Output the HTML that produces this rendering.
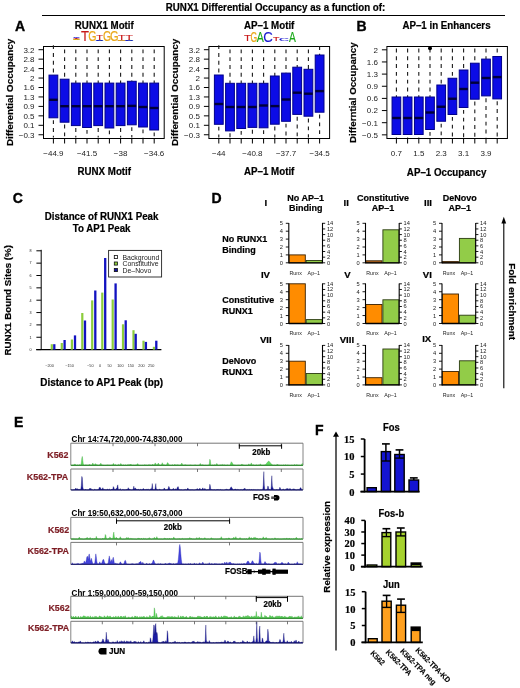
<!DOCTYPE html>
<html><head><meta charset="utf-8"><title>Figure</title>
<style>html,body{margin:0;padding:0;background:#fff;width:520px;height:688px;overflow:hidden}svg{display:block;will-change:transform}</style>
</head><body>
<svg width="520" height="688" viewBox="0 0 520 688">
<rect x="0" y="0" width="520" height="688" fill="#fff"/>
<text transform="translate(165.80,10.90) scale(1,1.08)" font-family='"Liberation Sans", sans-serif' font-size="9.75" font-weight="bold" text-anchor="start" fill="#000" stroke="#000" stroke-width="0.2">RUNX1 Differential Occupancy as a function of:</text>
<line x1="42.00" y1="15.50" x2="505.00" y2="15.50" stroke="#000" stroke-width="1"/>
<text x="14.90" y="30.50" font-family='"Liberation Sans", sans-serif' font-size="14.0" font-weight="bold" text-anchor="start" fill="#000" stroke="#000" stroke-width="0.35">A</text>
<text x="356.60" y="31.30" font-family='"Liberation Sans", sans-serif' font-size="14.0" font-weight="bold" text-anchor="start" fill="#000" stroke="#000" stroke-width="0.35">B</text>
<text x="12.85" y="203.30" font-family='"Liberation Sans", sans-serif' font-size="14.0" font-weight="bold" text-anchor="start" fill="#000" stroke="#000" stroke-width="0.35">C</text>
<text x="211.50" y="203.40" font-family='"Liberation Sans", sans-serif' font-size="14.0" font-weight="bold" text-anchor="start" fill="#000" stroke="#000" stroke-width="0.35">D</text>
<text x="14.00" y="426.70" font-family='"Liberation Sans", sans-serif' font-size="14.0" font-weight="bold" text-anchor="start" fill="#000" stroke="#000" stroke-width="0.35">E</text>
<text x="314.90" y="435.40" font-family='"Liberation Sans", sans-serif' font-size="14.0" font-weight="bold" text-anchor="start" fill="#000" stroke="#000" stroke-width="0.35">F</text>
<rect x="43.50" y="46.50" width="120.70" height="92.00" fill="none" stroke="#000" stroke-width="1"/>
<line x1="38.50" y1="49.70" x2="43.50" y2="49.70" stroke="#000" stroke-width="1"/>
<text x="34.50" y="52.60" font-family='"Liberation Sans", sans-serif' font-size="8" font-weight="normal" text-anchor="end" fill="#222">3.2</text>
<line x1="38.50" y1="59.15" x2="43.50" y2="59.15" stroke="#000" stroke-width="1"/>
<text x="34.50" y="62.05" font-family='"Liberation Sans", sans-serif' font-size="8" font-weight="normal" text-anchor="end" fill="#222">2.8</text>
<line x1="38.50" y1="68.60" x2="43.50" y2="68.60" stroke="#000" stroke-width="1"/>
<text x="34.50" y="71.50" font-family='"Liberation Sans", sans-serif' font-size="8" font-weight="normal" text-anchor="end" fill="#222">2.4</text>
<line x1="38.50" y1="78.05" x2="43.50" y2="78.05" stroke="#000" stroke-width="1"/>
<text x="34.50" y="80.95" font-family='"Liberation Sans", sans-serif' font-size="8" font-weight="normal" text-anchor="end" fill="#222">2</text>
<line x1="38.50" y1="87.50" x2="43.50" y2="87.50" stroke="#000" stroke-width="1"/>
<text x="34.50" y="90.40" font-family='"Liberation Sans", sans-serif' font-size="8" font-weight="normal" text-anchor="end" fill="#222">1.6</text>
<line x1="38.50" y1="96.95" x2="43.50" y2="96.95" stroke="#000" stroke-width="1"/>
<text x="34.50" y="99.85" font-family='"Liberation Sans", sans-serif' font-size="8" font-weight="normal" text-anchor="end" fill="#222">1.3</text>
<line x1="38.50" y1="106.40" x2="43.50" y2="106.40" stroke="#000" stroke-width="1"/>
<text x="34.50" y="109.30" font-family='"Liberation Sans", sans-serif' font-size="8" font-weight="normal" text-anchor="end" fill="#222">0.9</text>
<line x1="38.50" y1="115.85" x2="43.50" y2="115.85" stroke="#000" stroke-width="1"/>
<text x="34.50" y="118.75" font-family='"Liberation Sans", sans-serif' font-size="8" font-weight="normal" text-anchor="end" fill="#222">0.5</text>
<line x1="38.50" y1="125.30" x2="43.50" y2="125.30" stroke="#000" stroke-width="1"/>
<text x="34.50" y="128.20" font-family='"Liberation Sans", sans-serif' font-size="8" font-weight="normal" text-anchor="end" fill="#222">0.1</text>
<line x1="38.50" y1="134.75" x2="43.50" y2="134.75" stroke="#000" stroke-width="1"/>
<text x="34.50" y="137.65" font-family='"Liberation Sans", sans-serif' font-size="8" font-weight="normal" text-anchor="end" fill="#222">−0.3</text>
<line x1="53.40" y1="45.20" x2="53.40" y2="75.10" stroke="#1a1a1a" stroke-width="1.1" stroke-dasharray="3.9,3.9"/>
<line x1="53.40" y1="120.20" x2="53.40" y2="137.50" stroke="#1a1a1a" stroke-width="1.1" stroke-dasharray="3.9,3.9"/>
<rect x="49.00" y="75.10" width="8.80" height="42.70" fill="#0c0ce6" stroke="#00008a" stroke-width="1.0"/>
<line x1="49.00" y1="99.80" x2="57.80" y2="99.80" stroke="#00003a" stroke-width="2.4"/>
<line x1="64.60" y1="49.40" x2="64.60" y2="79.20" stroke="#1a1a1a" stroke-width="1.1" stroke-dasharray="3.9,3.9"/>
<line x1="64.60" y1="124.60" x2="64.60" y2="137.50" stroke="#1a1a1a" stroke-width="1.1" stroke-dasharray="3.9,3.9"/>
<rect x="60.20" y="79.20" width="8.80" height="43.00" fill="#0c0ce6" stroke="#00008a" stroke-width="1.0"/>
<line x1="60.20" y1="106.20" x2="69.00" y2="106.20" stroke="#00003a" stroke-width="2.4"/>
<line x1="75.80" y1="49.40" x2="75.80" y2="83.10" stroke="#1a1a1a" stroke-width="1.1" stroke-dasharray="3.9,3.9"/>
<line x1="75.80" y1="128.00" x2="75.80" y2="137.50" stroke="#1a1a1a" stroke-width="1.1" stroke-dasharray="3.9,3.9"/>
<rect x="71.40" y="83.10" width="8.80" height="42.50" fill="#0c0ce6" stroke="#00008a" stroke-width="1.0"/>
<line x1="71.40" y1="106.20" x2="80.20" y2="106.20" stroke="#00003a" stroke-width="2.4"/>
<line x1="87.00" y1="49.40" x2="87.00" y2="83.10" stroke="#1a1a1a" stroke-width="1.1" stroke-dasharray="3.9,3.9"/>
<line x1="87.00" y1="129.90" x2="87.00" y2="137.50" stroke="#1a1a1a" stroke-width="1.1" stroke-dasharray="3.9,3.9"/>
<rect x="82.60" y="83.10" width="8.80" height="44.40" fill="#0c0ce6" stroke="#00008a" stroke-width="1.0"/>
<line x1="82.60" y1="106.20" x2="91.40" y2="106.20" stroke="#00003a" stroke-width="2.4"/>
<line x1="98.20" y1="49.40" x2="98.20" y2="83.10" stroke="#1a1a1a" stroke-width="1.1" stroke-dasharray="3.9,3.9"/>
<line x1="98.20" y1="128.00" x2="98.20" y2="137.50" stroke="#1a1a1a" stroke-width="1.1" stroke-dasharray="3.9,3.9"/>
<rect x="93.80" y="83.10" width="8.80" height="42.50" fill="#0c0ce6" stroke="#00008a" stroke-width="1.0"/>
<line x1="93.80" y1="106.20" x2="102.60" y2="106.20" stroke="#00003a" stroke-width="2.4"/>
<line x1="109.40" y1="49.40" x2="109.40" y2="83.10" stroke="#1a1a1a" stroke-width="1.1" stroke-dasharray="3.9,3.9"/>
<line x1="109.40" y1="130.40" x2="109.40" y2="137.50" stroke="#1a1a1a" stroke-width="1.1" stroke-dasharray="3.9,3.9"/>
<rect x="105.00" y="83.10" width="8.80" height="44.90" fill="#0c0ce6" stroke="#00008a" stroke-width="1.0"/>
<line x1="105.00" y1="106.20" x2="113.80" y2="106.20" stroke="#00003a" stroke-width="2.4"/>
<line x1="120.60" y1="49.40" x2="120.60" y2="83.10" stroke="#1a1a1a" stroke-width="1.1" stroke-dasharray="3.9,3.9"/>
<line x1="120.60" y1="128.00" x2="120.60" y2="137.50" stroke="#1a1a1a" stroke-width="1.1" stroke-dasharray="3.9,3.9"/>
<rect x="116.20" y="83.10" width="8.80" height="42.50" fill="#0c0ce6" stroke="#00008a" stroke-width="1.0"/>
<line x1="116.20" y1="106.20" x2="125.00" y2="106.20" stroke="#00003a" stroke-width="2.4"/>
<line x1="131.80" y1="49.40" x2="131.80" y2="81.30" stroke="#1a1a1a" stroke-width="1.1" stroke-dasharray="3.9,3.9"/>
<line x1="131.80" y1="127.20" x2="131.80" y2="137.50" stroke="#1a1a1a" stroke-width="1.1" stroke-dasharray="3.9,3.9"/>
<rect x="127.40" y="81.30" width="8.80" height="43.50" fill="#0c0ce6" stroke="#00008a" stroke-width="1.0"/>
<line x1="127.40" y1="105.90" x2="136.20" y2="105.90" stroke="#00003a" stroke-width="2.4"/>
<line x1="143.00" y1="49.40" x2="143.00" y2="83.10" stroke="#1a1a1a" stroke-width="1.1" stroke-dasharray="3.9,3.9"/>
<line x1="143.00" y1="129.40" x2="143.00" y2="137.50" stroke="#1a1a1a" stroke-width="1.1" stroke-dasharray="3.9,3.9"/>
<rect x="138.60" y="83.10" width="8.80" height="43.90" fill="#0c0ce6" stroke="#00008a" stroke-width="1.0"/>
<line x1="138.60" y1="107.00" x2="147.40" y2="107.00" stroke="#00003a" stroke-width="2.4"/>
<line x1="154.20" y1="49.40" x2="154.20" y2="83.10" stroke="#1a1a1a" stroke-width="1.1" stroke-dasharray="3.9,3.9"/>
<line x1="154.20" y1="132.40" x2="154.20" y2="137.50" stroke="#1a1a1a" stroke-width="1.1" stroke-dasharray="3.9,3.9"/>
<rect x="149.80" y="83.10" width="8.80" height="46.90" fill="#0c0ce6" stroke="#00008a" stroke-width="1.0"/>
<line x1="149.80" y1="108.00" x2="158.60" y2="108.00" stroke="#00003a" stroke-width="2.4"/>
<line x1="53.40" y1="138.50" x2="53.40" y2="143.50" stroke="#000" stroke-width="1"/>
<line x1="64.60" y1="138.50" x2="64.60" y2="143.50" stroke="#000" stroke-width="1"/>
<line x1="75.80" y1="138.50" x2="75.80" y2="143.50" stroke="#000" stroke-width="1"/>
<line x1="87.00" y1="138.50" x2="87.00" y2="143.50" stroke="#000" stroke-width="1"/>
<line x1="98.20" y1="138.50" x2="98.20" y2="143.50" stroke="#000" stroke-width="1"/>
<line x1="109.40" y1="138.50" x2="109.40" y2="143.50" stroke="#000" stroke-width="1"/>
<line x1="120.60" y1="138.50" x2="120.60" y2="143.50" stroke="#000" stroke-width="1"/>
<line x1="131.80" y1="138.50" x2="131.80" y2="143.50" stroke="#000" stroke-width="1"/>
<line x1="143.00" y1="138.50" x2="143.00" y2="143.50" stroke="#000" stroke-width="1"/>
<line x1="154.20" y1="138.50" x2="154.20" y2="143.50" stroke="#000" stroke-width="1"/>
<text x="53.40" y="155.70" font-family='"Liberation Sans", sans-serif' font-size="8" font-weight="normal" text-anchor="middle" fill="#222">−44.9</text>
<text x="87.00" y="155.70" font-family='"Liberation Sans", sans-serif' font-size="8" font-weight="normal" text-anchor="middle" fill="#222">−41.5</text>
<text x="120.60" y="155.70" font-family='"Liberation Sans", sans-serif' font-size="8" font-weight="normal" text-anchor="middle" fill="#222">−38</text>
<text x="154.20" y="155.70" font-family='"Liberation Sans", sans-serif' font-size="8" font-weight="normal" text-anchor="middle" fill="#222">−34.6</text>
<text transform="translate(12.60,92.50) rotate(-90)" font-family='"Liberation Sans", sans-serif' font-size="9.85" font-weight="bold" text-anchor="middle" fill="#000" stroke="#000" stroke-width="0.2">Differential Occupancy</text>
<text transform="translate(104.30,28.50) scale(1,1.08)" font-family='"Liberation Sans", sans-serif' font-size="9.75" font-weight="bold" text-anchor="middle" fill="#000" stroke="#000" stroke-width="0.2">RUNX1 Motif</text>
<text transform="translate(104.30,174.50) scale(1,1.08)" font-family='"Liberation Sans", sans-serif' font-size="9.75" font-weight="bold" text-anchor="middle" fill="#000" stroke="#000" stroke-width="0.2">RUNX Motif</text>
<rect x="208.90" y="46.50" width="120.70" height="92.00" fill="none" stroke="#000" stroke-width="1"/>
<line x1="203.90" y1="49.70" x2="208.90" y2="49.70" stroke="#000" stroke-width="1"/>
<text x="199.90" y="52.60" font-family='"Liberation Sans", sans-serif' font-size="8" font-weight="normal" text-anchor="end" fill="#222">3.2</text>
<line x1="203.90" y1="59.15" x2="208.90" y2="59.15" stroke="#000" stroke-width="1"/>
<text x="199.90" y="62.05" font-family='"Liberation Sans", sans-serif' font-size="8" font-weight="normal" text-anchor="end" fill="#222">2.8</text>
<line x1="203.90" y1="68.60" x2="208.90" y2="68.60" stroke="#000" stroke-width="1"/>
<text x="199.90" y="71.50" font-family='"Liberation Sans", sans-serif' font-size="8" font-weight="normal" text-anchor="end" fill="#222">2.4</text>
<line x1="203.90" y1="78.05" x2="208.90" y2="78.05" stroke="#000" stroke-width="1"/>
<text x="199.90" y="80.95" font-family='"Liberation Sans", sans-serif' font-size="8" font-weight="normal" text-anchor="end" fill="#222">2</text>
<line x1="203.90" y1="87.50" x2="208.90" y2="87.50" stroke="#000" stroke-width="1"/>
<text x="199.90" y="90.40" font-family='"Liberation Sans", sans-serif' font-size="8" font-weight="normal" text-anchor="end" fill="#222">1.6</text>
<line x1="203.90" y1="96.95" x2="208.90" y2="96.95" stroke="#000" stroke-width="1"/>
<text x="199.90" y="99.85" font-family='"Liberation Sans", sans-serif' font-size="8" font-weight="normal" text-anchor="end" fill="#222">1.3</text>
<line x1="203.90" y1="106.40" x2="208.90" y2="106.40" stroke="#000" stroke-width="1"/>
<text x="199.90" y="109.30" font-family='"Liberation Sans", sans-serif' font-size="8" font-weight="normal" text-anchor="end" fill="#222">0.9</text>
<line x1="203.90" y1="115.85" x2="208.90" y2="115.85" stroke="#000" stroke-width="1"/>
<text x="199.90" y="118.75" font-family='"Liberation Sans", sans-serif' font-size="8" font-weight="normal" text-anchor="end" fill="#222">0.5</text>
<line x1="203.90" y1="125.30" x2="208.90" y2="125.30" stroke="#000" stroke-width="1"/>
<text x="199.90" y="128.20" font-family='"Liberation Sans", sans-serif' font-size="8" font-weight="normal" text-anchor="end" fill="#222">0.1</text>
<line x1="203.90" y1="134.75" x2="208.90" y2="134.75" stroke="#000" stroke-width="1"/>
<text x="199.90" y="137.65" font-family='"Liberation Sans", sans-serif' font-size="8" font-weight="normal" text-anchor="end" fill="#222">−0.3</text>
<line x1="218.80" y1="45.20" x2="218.80" y2="75.00" stroke="#1a1a1a" stroke-width="1.1" stroke-dasharray="3.9,3.9"/>
<line x1="218.80" y1="126.70" x2="218.80" y2="137.50" stroke="#1a1a1a" stroke-width="1.1" stroke-dasharray="3.9,3.9"/>
<rect x="214.40" y="75.00" width="8.80" height="49.30" fill="#0c0ce6" stroke="#00008a" stroke-width="1.0"/>
<line x1="214.40" y1="104.00" x2="223.20" y2="104.00" stroke="#00003a" stroke-width="2.4"/>
<line x1="230.00" y1="49.40" x2="230.00" y2="83.30" stroke="#1a1a1a" stroke-width="1.1" stroke-dasharray="3.9,3.9"/>
<line x1="230.00" y1="133.30" x2="230.00" y2="137.50" stroke="#1a1a1a" stroke-width="1.1" stroke-dasharray="3.9,3.9"/>
<rect x="225.60" y="83.30" width="8.80" height="47.60" fill="#0c0ce6" stroke="#00008a" stroke-width="1.0"/>
<line x1="225.60" y1="107.00" x2="234.40" y2="107.00" stroke="#00003a" stroke-width="2.4"/>
<line x1="241.20" y1="49.40" x2="241.20" y2="83.30" stroke="#1a1a1a" stroke-width="1.1" stroke-dasharray="3.9,3.9"/>
<line x1="241.20" y1="130.90" x2="241.20" y2="137.50" stroke="#1a1a1a" stroke-width="1.1" stroke-dasharray="3.9,3.9"/>
<rect x="236.80" y="83.30" width="8.80" height="45.20" fill="#0c0ce6" stroke="#00008a" stroke-width="1.0"/>
<line x1="236.80" y1="107.00" x2="245.60" y2="107.00" stroke="#00003a" stroke-width="2.4"/>
<line x1="252.40" y1="49.40" x2="252.40" y2="83.30" stroke="#1a1a1a" stroke-width="1.1" stroke-dasharray="3.9,3.9"/>
<line x1="252.40" y1="129.80" x2="252.40" y2="137.50" stroke="#1a1a1a" stroke-width="1.1" stroke-dasharray="3.9,3.9"/>
<rect x="248.00" y="83.30" width="8.80" height="44.10" fill="#0c0ce6" stroke="#00008a" stroke-width="1.0"/>
<line x1="248.00" y1="107.00" x2="256.80" y2="107.00" stroke="#00003a" stroke-width="2.4"/>
<line x1="263.60" y1="49.40" x2="263.60" y2="83.30" stroke="#1a1a1a" stroke-width="1.1" stroke-dasharray="3.9,3.9"/>
<line x1="263.60" y1="130.20" x2="263.60" y2="137.50" stroke="#1a1a1a" stroke-width="1.1" stroke-dasharray="3.9,3.9"/>
<rect x="259.20" y="83.30" width="8.80" height="44.50" fill="#0c0ce6" stroke="#00008a" stroke-width="1.0"/>
<line x1="259.20" y1="105.50" x2="268.00" y2="105.50" stroke="#00003a" stroke-width="2.4"/>
<line x1="274.80" y1="49.40" x2="274.80" y2="76.00" stroke="#1a1a1a" stroke-width="1.1" stroke-dasharray="3.9,3.9"/>
<line x1="274.80" y1="126.60" x2="274.80" y2="137.50" stroke="#1a1a1a" stroke-width="1.1" stroke-dasharray="3.9,3.9"/>
<rect x="270.40" y="76.00" width="8.80" height="48.20" fill="#0c0ce6" stroke="#00008a" stroke-width="1.0"/>
<line x1="270.40" y1="106.10" x2="279.20" y2="106.10" stroke="#00003a" stroke-width="2.4"/>
<line x1="286.00" y1="49.40" x2="286.00" y2="73.10" stroke="#1a1a1a" stroke-width="1.1" stroke-dasharray="3.9,3.9"/>
<line x1="286.00" y1="123.70" x2="286.00" y2="137.50" stroke="#1a1a1a" stroke-width="1.1" stroke-dasharray="3.9,3.9"/>
<rect x="281.60" y="73.10" width="8.80" height="48.20" fill="#0c0ce6" stroke="#00008a" stroke-width="1.0"/>
<line x1="281.60" y1="99.50" x2="290.40" y2="99.50" stroke="#00003a" stroke-width="2.4"/>
<line x1="297.20" y1="49.40" x2="297.20" y2="67.20" stroke="#1a1a1a" stroke-width="1.1" stroke-dasharray="3.9,3.9"/>
<line x1="297.20" y1="116.80" x2="297.20" y2="137.50" stroke="#1a1a1a" stroke-width="1.1" stroke-dasharray="3.9,3.9"/>
<rect x="292.80" y="67.20" width="8.80" height="47.20" fill="#0c0ce6" stroke="#00008a" stroke-width="1.0"/>
<line x1="292.80" y1="92.70" x2="301.60" y2="92.70" stroke="#00003a" stroke-width="2.4"/>
<line x1="308.40" y1="49.40" x2="308.40" y2="69.30" stroke="#1a1a1a" stroke-width="1.1" stroke-dasharray="3.9,3.9"/>
<line x1="308.40" y1="118.60" x2="308.40" y2="137.50" stroke="#1a1a1a" stroke-width="1.1" stroke-dasharray="3.9,3.9"/>
<rect x="304.00" y="69.30" width="8.80" height="46.90" fill="#0c0ce6" stroke="#00008a" stroke-width="1.0"/>
<line x1="304.00" y1="93.70" x2="312.80" y2="93.70" stroke="#00003a" stroke-width="2.4"/>
<line x1="319.60" y1="46.00" x2="319.60" y2="55.00" stroke="#1a1a1a" stroke-width="1.1" stroke-dasharray="3.9,3.9"/>
<line x1="319.60" y1="114.60" x2="319.60" y2="137.50" stroke="#1a1a1a" stroke-width="1.1" stroke-dasharray="3.9,3.9"/>
<rect x="315.20" y="55.00" width="8.80" height="57.20" fill="#0c0ce6" stroke="#00008a" stroke-width="1.0"/>
<line x1="315.20" y1="91.10" x2="324.00" y2="91.10" stroke="#00003a" stroke-width="2.4"/>
<line x1="218.80" y1="138.50" x2="218.80" y2="143.50" stroke="#000" stroke-width="1"/>
<line x1="230.00" y1="138.50" x2="230.00" y2="143.50" stroke="#000" stroke-width="1"/>
<line x1="241.20" y1="138.50" x2="241.20" y2="143.50" stroke="#000" stroke-width="1"/>
<line x1="252.40" y1="138.50" x2="252.40" y2="143.50" stroke="#000" stroke-width="1"/>
<line x1="263.60" y1="138.50" x2="263.60" y2="143.50" stroke="#000" stroke-width="1"/>
<line x1="274.80" y1="138.50" x2="274.80" y2="143.50" stroke="#000" stroke-width="1"/>
<line x1="286.00" y1="138.50" x2="286.00" y2="143.50" stroke="#000" stroke-width="1"/>
<line x1="297.20" y1="138.50" x2="297.20" y2="143.50" stroke="#000" stroke-width="1"/>
<line x1="308.40" y1="138.50" x2="308.40" y2="143.50" stroke="#000" stroke-width="1"/>
<line x1="319.60" y1="138.50" x2="319.60" y2="143.50" stroke="#000" stroke-width="1"/>
<text x="218.80" y="155.70" font-family='"Liberation Sans", sans-serif' font-size="8" font-weight="normal" text-anchor="middle" fill="#222">−44</text>
<text x="252.40" y="155.70" font-family='"Liberation Sans", sans-serif' font-size="8" font-weight="normal" text-anchor="middle" fill="#222">−40.8</text>
<text x="286.00" y="155.70" font-family='"Liberation Sans", sans-serif' font-size="8" font-weight="normal" text-anchor="middle" fill="#222">−37.7</text>
<text x="319.60" y="155.70" font-family='"Liberation Sans", sans-serif' font-size="8" font-weight="normal" text-anchor="middle" fill="#222">−34.5</text>
<text transform="translate(178.30,92.40) rotate(-90)" font-family='"Liberation Sans", sans-serif' font-size="9.85" font-weight="bold" text-anchor="middle" fill="#000" stroke="#000" stroke-width="0.2">Differential Occupancy</text>
<text transform="translate(269.20,28.50) scale(1,1.08)" font-family='"Liberation Sans", sans-serif' font-size="9.75" font-weight="bold" text-anchor="middle" fill="#000" stroke="#000" stroke-width="0.2">AP–1 Motif</text>
<text transform="translate(269.20,174.50) scale(1,1.08)" font-family='"Liberation Sans", sans-serif' font-size="9.75" font-weight="bold" text-anchor="middle" fill="#000" stroke="#000" stroke-width="0.2">AP–1 Motif</text>
<rect x="386.90" y="46.50" width="120.50" height="92.00" fill="none" stroke="#000" stroke-width="1"/>
<line x1="381.90" y1="49.80" x2="386.90" y2="49.80" stroke="#000" stroke-width="1"/>
<text x="377.90" y="52.70" font-family='"Liberation Sans", sans-serif' font-size="8" font-weight="normal" text-anchor="end" fill="#222">2</text>
<line x1="381.90" y1="61.95" x2="386.90" y2="61.95" stroke="#000" stroke-width="1"/>
<text x="377.90" y="64.85" font-family='"Liberation Sans", sans-serif' font-size="8" font-weight="normal" text-anchor="end" fill="#222">1.6</text>
<line x1="381.90" y1="74.10" x2="386.90" y2="74.10" stroke="#000" stroke-width="1"/>
<text x="377.90" y="77.00" font-family='"Liberation Sans", sans-serif' font-size="8" font-weight="normal" text-anchor="end" fill="#222">1.3</text>
<line x1="381.90" y1="86.25" x2="386.90" y2="86.25" stroke="#000" stroke-width="1"/>
<text x="377.90" y="89.15" font-family='"Liberation Sans", sans-serif' font-size="8" font-weight="normal" text-anchor="end" fill="#222">0.9</text>
<line x1="381.90" y1="98.40" x2="386.90" y2="98.40" stroke="#000" stroke-width="1"/>
<text x="377.90" y="101.30" font-family='"Liberation Sans", sans-serif' font-size="8" font-weight="normal" text-anchor="end" fill="#222">0.6</text>
<line x1="381.90" y1="110.55" x2="386.90" y2="110.55" stroke="#000" stroke-width="1"/>
<text x="377.90" y="113.45" font-family='"Liberation Sans", sans-serif' font-size="8" font-weight="normal" text-anchor="end" fill="#222">0.2</text>
<line x1="381.90" y1="122.70" x2="386.90" y2="122.70" stroke="#000" stroke-width="1"/>
<text x="377.90" y="125.60" font-family='"Liberation Sans", sans-serif' font-size="8" font-weight="normal" text-anchor="end" fill="#222">−0.1</text>
<line x1="381.90" y1="134.85" x2="386.90" y2="134.85" stroke="#000" stroke-width="1"/>
<text x="377.90" y="137.75" font-family='"Liberation Sans", sans-serif' font-size="8" font-weight="normal" text-anchor="end" fill="#222">−0.5</text>
<line x1="396.40" y1="48.50" x2="396.40" y2="97.00" stroke="#1a1a1a" stroke-width="1.1" stroke-dasharray="3.9,3.9"/>
<line x1="396.40" y1="136.90" x2="396.40" y2="137.50" stroke="#1a1a1a" stroke-width="1.1" stroke-dasharray="3.9,3.9"/>
<rect x="392.05" y="97.00" width="8.70" height="37.50" fill="#0c0ce6" stroke="#00008a" stroke-width="1.0"/>
<line x1="392.05" y1="118.00" x2="400.75" y2="118.00" stroke="#00003a" stroke-width="2.4"/>
<line x1="407.60" y1="48.50" x2="407.60" y2="97.00" stroke="#1a1a1a" stroke-width="1.1" stroke-dasharray="3.9,3.9"/>
<line x1="407.60" y1="136.90" x2="407.60" y2="137.50" stroke="#1a1a1a" stroke-width="1.1" stroke-dasharray="3.9,3.9"/>
<rect x="403.25" y="97.00" width="8.70" height="37.50" fill="#0c0ce6" stroke="#00008a" stroke-width="1.0"/>
<line x1="403.25" y1="118.00" x2="411.95" y2="118.00" stroke="#00003a" stroke-width="2.4"/>
<line x1="418.80" y1="48.50" x2="418.80" y2="97.00" stroke="#1a1a1a" stroke-width="1.1" stroke-dasharray="3.9,3.9"/>
<line x1="418.80" y1="136.90" x2="418.80" y2="137.50" stroke="#1a1a1a" stroke-width="1.1" stroke-dasharray="3.9,3.9"/>
<rect x="414.45" y="97.00" width="8.70" height="37.50" fill="#0c0ce6" stroke="#00008a" stroke-width="1.0"/>
<line x1="414.45" y1="118.00" x2="423.15" y2="118.00" stroke="#00003a" stroke-width="2.4"/>
<line x1="430.00" y1="48.50" x2="430.00" y2="97.00" stroke="#1a1a1a" stroke-width="1.1" stroke-dasharray="3.9,3.9"/>
<line x1="430.00" y1="131.90" x2="430.00" y2="137.50" stroke="#1a1a1a" stroke-width="1.1" stroke-dasharray="3.9,3.9"/>
<rect x="425.65" y="97.00" width="8.70" height="32.50" fill="#0c0ce6" stroke="#00008a" stroke-width="1.0"/>
<line x1="425.65" y1="112.50" x2="434.35" y2="112.50" stroke="#00003a" stroke-width="2.4"/>
<line x1="441.20" y1="48.50" x2="441.20" y2="85.00" stroke="#1a1a1a" stroke-width="1.1" stroke-dasharray="3.9,3.9"/>
<line x1="441.20" y1="123.65" x2="441.20" y2="137.50" stroke="#1a1a1a" stroke-width="1.1" stroke-dasharray="3.9,3.9"/>
<rect x="436.85" y="85.00" width="8.70" height="36.25" fill="#0c0ce6" stroke="#00008a" stroke-width="1.0"/>
<line x1="436.85" y1="106.75" x2="445.55" y2="106.75" stroke="#00003a" stroke-width="2.4"/>
<line x1="452.40" y1="48.50" x2="452.40" y2="78.25" stroke="#1a1a1a" stroke-width="1.1" stroke-dasharray="3.9,3.9"/>
<line x1="452.40" y1="116.90" x2="452.40" y2="137.50" stroke="#1a1a1a" stroke-width="1.1" stroke-dasharray="3.9,3.9"/>
<rect x="448.05" y="78.25" width="8.70" height="36.25" fill="#0c0ce6" stroke="#00008a" stroke-width="1.0"/>
<line x1="448.05" y1="98.75" x2="456.75" y2="98.75" stroke="#00003a" stroke-width="2.4"/>
<line x1="463.60" y1="48.50" x2="463.60" y2="70.00" stroke="#1a1a1a" stroke-width="1.1" stroke-dasharray="3.9,3.9"/>
<line x1="463.60" y1="109.90" x2="463.60" y2="137.50" stroke="#1a1a1a" stroke-width="1.1" stroke-dasharray="3.9,3.9"/>
<rect x="459.25" y="70.00" width="8.70" height="37.50" fill="#0c0ce6" stroke="#00008a" stroke-width="1.0"/>
<line x1="459.25" y1="89.00" x2="467.95" y2="89.00" stroke="#00003a" stroke-width="2.4"/>
<line x1="474.80" y1="48.50" x2="474.80" y2="63.20" stroke="#1a1a1a" stroke-width="1.1" stroke-dasharray="3.9,3.9"/>
<line x1="474.80" y1="101.60" x2="474.80" y2="137.50" stroke="#1a1a1a" stroke-width="1.1" stroke-dasharray="3.9,3.9"/>
<rect x="470.45" y="63.20" width="8.70" height="36.00" fill="#0c0ce6" stroke="#00008a" stroke-width="1.0"/>
<line x1="470.45" y1="82.70" x2="479.15" y2="82.70" stroke="#00003a" stroke-width="2.4"/>
<line x1="486.00" y1="48.50" x2="486.00" y2="59.10" stroke="#1a1a1a" stroke-width="1.1" stroke-dasharray="3.9,3.9"/>
<line x1="486.00" y1="98.30" x2="486.00" y2="137.50" stroke="#1a1a1a" stroke-width="1.1" stroke-dasharray="3.9,3.9"/>
<rect x="481.65" y="59.10" width="8.70" height="36.80" fill="#0c0ce6" stroke="#00008a" stroke-width="1.0"/>
<line x1="481.65" y1="78.00" x2="490.35" y2="78.00" stroke="#00003a" stroke-width="2.4"/>
<line x1="497.20" y1="48.50" x2="497.20" y2="56.50" stroke="#1a1a1a" stroke-width="1.1" stroke-dasharray="3.9,3.9"/>
<line x1="497.20" y1="101.30" x2="497.20" y2="137.50" stroke="#1a1a1a" stroke-width="1.1" stroke-dasharray="3.9,3.9"/>
<rect x="492.85" y="56.50" width="8.70" height="42.40" fill="#0c0ce6" stroke="#00008a" stroke-width="1.0"/>
<line x1="492.85" y1="77.10" x2="501.55" y2="77.10" stroke="#00003a" stroke-width="2.4"/>
<line x1="396.40" y1="138.50" x2="396.40" y2="143.50" stroke="#000" stroke-width="1"/>
<line x1="407.60" y1="138.50" x2="407.60" y2="143.50" stroke="#000" stroke-width="1"/>
<line x1="418.80" y1="138.50" x2="418.80" y2="143.50" stroke="#000" stroke-width="1"/>
<line x1="430.00" y1="138.50" x2="430.00" y2="143.50" stroke="#000" stroke-width="1"/>
<line x1="441.20" y1="138.50" x2="441.20" y2="143.50" stroke="#000" stroke-width="1"/>
<line x1="452.40" y1="138.50" x2="452.40" y2="143.50" stroke="#000" stroke-width="1"/>
<line x1="463.60" y1="138.50" x2="463.60" y2="143.50" stroke="#000" stroke-width="1"/>
<line x1="474.80" y1="138.50" x2="474.80" y2="143.50" stroke="#000" stroke-width="1"/>
<line x1="486.00" y1="138.50" x2="486.00" y2="143.50" stroke="#000" stroke-width="1"/>
<line x1="497.20" y1="138.50" x2="497.20" y2="143.50" stroke="#000" stroke-width="1"/>
<text x="396.40" y="155.70" font-family='"Liberation Sans", sans-serif' font-size="8" font-weight="normal" text-anchor="middle" fill="#222">0.7</text>
<text x="418.80" y="155.70" font-family='"Liberation Sans", sans-serif' font-size="8" font-weight="normal" text-anchor="middle" fill="#222">1.5</text>
<text x="441.20" y="155.70" font-family='"Liberation Sans", sans-serif' font-size="8" font-weight="normal" text-anchor="middle" fill="#222">2.3</text>
<text x="463.60" y="155.70" font-family='"Liberation Sans", sans-serif' font-size="8" font-weight="normal" text-anchor="middle" fill="#222">3.1</text>
<text x="486.00" y="155.70" font-family='"Liberation Sans", sans-serif' font-size="8" font-weight="normal" text-anchor="middle" fill="#222">3.9</text>
<circle cx="430.00" cy="48.3" r="2" fill="#000"/>
<text transform="translate(355.60,92.70) rotate(-90)" font-family='"Liberation Sans", sans-serif' font-size="9.72" font-weight="bold" text-anchor="middle" fill="#000" stroke="#000" stroke-width="0.2">Differntial Occupancy</text>
<text transform="translate(446.50,28.80) scale(1,1.08)" font-family='"Liberation Sans", sans-serif' font-size="9.75" font-weight="bold" text-anchor="middle" fill="#000" stroke="#000" stroke-width="0.2">AP–1 in Enhancers</text>
<text transform="translate(446.60,175.80) scale(1,1.08)" font-family='"Liberation Sans", sans-serif' font-size="9.75" font-weight="bold" text-anchor="middle" fill="#000" stroke="#000" stroke-width="0.2">AP–1 Occupancy</text>
<text transform="translate(73.583,40.400) scale(0.0875,0.0087)" font-family='"Liberation Sans", sans-serif' font-size="100" font-weight="normal" fill="#18a818" stroke="#18a818" stroke-width="13.76">A</text>
<text transform="translate(73.153,39.792) scale(0.0888,0.0085)" font-family='"Liberation Sans", sans-serif' font-size="100" font-weight="normal" fill="#eaa818" stroke="#eaa818" stroke-width="14.16">G</text>
<text transform="translate(73.370,39.200) scale(0.1026,0.0131)" font-family='"Liberation Sans", sans-serif' font-size="100" font-weight="normal" fill="#c81818" stroke="#c81818" stroke-width="9.17">T</text>
<text transform="translate(73.135,38.281) scale(0.0916,0.0198)" font-family='"Liberation Sans", sans-serif' font-size="100" font-weight="normal" fill="#1818d0" stroke="#1818d0" stroke-width="6.07">C</text>
<text transform="translate(80.906,41.200) scale(0.1309,0.1497)" font-family='"Liberation Sans", sans-serif' font-size="100" font-weight="normal" fill="#c81818" stroke="#c81818" stroke-width="0.92">T</text>
<text transform="translate(88.368,41.058) scale(0.1057,0.1455)" font-family='"Liberation Sans", sans-serif' font-size="100" font-weight="normal" fill="#eaa818" stroke="#eaa818" stroke-width="1.14">G</text>
<text transform="translate(96.582,41.200) scale(0.0935,0.0073)" font-family='"Liberation Sans", sans-serif' font-size="100" font-weight="normal" fill="#18a818" stroke="#18a818" stroke-width="16.51">A</text>
<text transform="translate(96.103,40.693) scale(0.0979,0.0071)" font-family='"Liberation Sans", sans-serif' font-size="100" font-weight="normal" fill="#1818d0" stroke="#1818d0" stroke-width="16.99">C</text>
<text transform="translate(96.122,40.194) scale(0.0950,0.0056)" font-family='"Liberation Sans", sans-serif' font-size="100" font-weight="normal" fill="#eaa818" stroke="#eaa818" stroke-width="21.24">G</text>
<text transform="translate(96.354,39.800) scale(0.1097,0.0698)" font-family='"Liberation Sans", sans-serif' font-size="100" font-weight="normal" fill="#c81818" stroke="#c81818" stroke-width="1.72">T</text>
<text transform="translate(102.968,41.058) scale(0.1057,0.1455)" font-family='"Liberation Sans", sans-serif' font-size="100" font-weight="normal" fill="#eaa818" stroke="#eaa818" stroke-width="1.14">G</text>
<text transform="translate(110.045,41.058) scale(0.1103,0.1455)" font-family='"Liberation Sans", sans-serif' font-size="100" font-weight="normal" fill="#eaa818" stroke="#eaa818" stroke-width="1.09">G</text>
<text transform="translate(117.655,41.192) scale(0.1074,0.0085)" font-family='"Liberation Sans", sans-serif' font-size="100" font-weight="normal" fill="#1818d0" stroke="#1818d0" stroke-width="14.16">C</text>
<text transform="translate(117.676,40.592) scale(0.1042,0.0085)" font-family='"Liberation Sans", sans-serif' font-size="100" font-weight="normal" fill="#eaa818" stroke="#eaa818" stroke-width="14.16">G</text>
<text transform="translate(117.930,40.000) scale(0.1203,0.0727)" font-family='"Liberation Sans", sans-serif' font-size="100" font-weight="normal" fill="#c81818" stroke="#c81818" stroke-width="1.65">T</text>
<text transform="translate(125.780,41.200) scale(0.1041,0.0087)" font-family='"Liberation Sans", sans-serif' font-size="100" font-weight="normal" fill="#18a818" stroke="#18a818" stroke-width="13.76">A</text>
<text transform="translate(125.247,40.592) scale(0.1090,0.0085)" font-family='"Liberation Sans", sans-serif' font-size="100" font-weight="normal" fill="#1818d0" stroke="#1818d0" stroke-width="14.16">C</text>
<text transform="translate(125.526,40.000) scale(0.1220,0.0669)" font-family='"Liberation Sans", sans-serif' font-size="100" font-weight="normal" fill="#c81818" stroke="#c81818" stroke-width="1.79">T</text>
<text transform="translate(243.779,41.894) scale(0.1026,0.0056)" font-family='"Liberation Sans", sans-serif' font-size="100" font-weight="normal" fill="#1818d0" stroke="#1818d0" stroke-width="21.24">C</text>
<text transform="translate(244.281,41.500) scale(0.0980,0.0058)" font-family='"Liberation Sans", sans-serif' font-size="100" font-weight="normal" fill="#18a818" stroke="#18a818" stroke-width="20.64">A</text>
<text transform="translate(243.799,41.094) scale(0.0996,0.0056)" font-family='"Liberation Sans", sans-serif' font-size="100" font-weight="normal" fill="#eaa818" stroke="#eaa818" stroke-width="21.24">G</text>
<text transform="translate(244.042,40.700) scale(0.1150,0.0858)" font-family='"Liberation Sans", sans-serif' font-size="100" font-weight="normal" fill="#c81818" stroke="#c81818" stroke-width="1.40">T</text>
<text transform="translate(250.569,41.759) scale(0.0858,0.1441)" font-family='"Liberation Sans", sans-serif' font-size="100" font-weight="normal" fill="#eaa818" stroke="#eaa818" stroke-width="1.40">G</text>
<text transform="translate(256.779,41.900) scale(0.1056,0.1483)" font-family='"Liberation Sans", sans-serif' font-size="100" font-weight="normal" fill="#18a818" stroke="#18a818" stroke-width="1.14">A</text>
<text transform="translate(263.326,41.759) scale(0.1326,0.1441)" font-family='"Liberation Sans", sans-serif' font-size="100" font-weight="normal" fill="#1818d0" stroke="#1818d0" stroke-width="0.90">C</text>
<text transform="translate(272.738,41.896) scale(0.0919,0.0042)" font-family='"Liberation Sans", sans-serif' font-size="100" font-weight="normal" fill="#eaa818" stroke="#eaa818" stroke-width="28.32">G</text>
<text transform="translate(272.719,41.596) scale(0.0947,0.0042)" font-family='"Liberation Sans", sans-serif' font-size="100" font-weight="normal" fill="#1818d0" stroke="#1818d0" stroke-width="28.32">C</text>
<text transform="translate(273.182,41.300) scale(0.0905,0.0044)" font-family='"Liberation Sans", sans-serif' font-size="100" font-weight="normal" fill="#18a818" stroke="#18a818" stroke-width="27.52">A</text>
<text transform="translate(272.962,41.000) scale(0.1061,0.0494)" font-family='"Liberation Sans", sans-serif' font-size="100" font-weight="normal" fill="#c81818" stroke="#c81818" stroke-width="2.43">T</text>
<text transform="translate(278.922,41.896) scale(0.1348,0.0042)" font-family='"Liberation Sans", sans-serif' font-size="100" font-weight="normal" fill="#eaa818" stroke="#eaa818" stroke-width="28.32">G</text>
<text transform="translate(279.574,41.600) scale(0.1327,0.0044)" font-family='"Liberation Sans", sans-serif' font-size="100" font-weight="normal" fill="#18a818" stroke="#18a818" stroke-width="27.52">A</text>
<text transform="translate(279.250,41.300) scale(0.1556,0.0058)" font-family='"Liberation Sans", sans-serif' font-size="100" font-weight="normal" fill="#c81818" stroke="#c81818" stroke-width="20.64">T</text>
<text transform="translate(278.894,40.857) scale(0.1390,0.0438)" font-family='"Liberation Sans", sans-serif' font-size="100" font-weight="normal" fill="#1818d0" stroke="#1818d0" stroke-width="2.74">C</text>
<text transform="translate(288.980,41.900) scale(0.1026,0.1483)" font-family='"Liberation Sans", sans-serif' font-size="100" font-weight="normal" fill="#18a818" stroke="#18a818" stroke-width="1.17">A</text>
<text transform="translate(101.60,220.10) scale(1,1.08)" font-family='"Liberation Sans", sans-serif' font-size="9.75" font-weight="bold" text-anchor="middle" fill="#000" stroke="#000" stroke-width="0.2">Distance of RUNX1 Peak</text>
<text transform="translate(101.60,232.10) scale(1,1.08)" font-family='"Liberation Sans", sans-serif' font-size="9.75" font-weight="bold" text-anchor="middle" fill="#000" stroke="#000" stroke-width="0.2">To AP1 Peak</text>
<text transform="translate(10.90,300.30) rotate(-90)" font-family='"Liberation Sans", sans-serif' font-size="9.75" font-weight="bold" text-anchor="middle" fill="#000" stroke="#000" stroke-width="0.2">RUNX1 Bound Sites (%)</text>
<text transform="translate(101.70,386.00) scale(1,1.08)" font-family='"Liberation Sans", sans-serif' font-size="9.95" font-weight="bold" text-anchor="middle" fill="#000" stroke="#000" stroke-width="0.2">Distance to AP1 Peak (bp)</text>
<line x1="41.20" y1="249.80" x2="41.20" y2="349.60" stroke="#000" stroke-width="1"/>
<line x1="36.20" y1="349.60" x2="161.40" y2="349.60" stroke="#000" stroke-width="1.2"/>
<line x1="36.40" y1="349.60" x2="41.20" y2="349.60" stroke="#000" stroke-width="1"/>
<text x="30.60" y="350.90" font-family='"Liberation Sans", sans-serif' font-size="3.7" font-weight="normal" text-anchor="middle" fill="#222">0</text>
<line x1="36.40" y1="337.25" x2="41.20" y2="337.25" stroke="#000" stroke-width="1"/>
<text x="30.60" y="338.55" font-family='"Liberation Sans", sans-serif' font-size="3.7" font-weight="normal" text-anchor="middle" fill="#222">1</text>
<line x1="36.40" y1="324.90" x2="41.20" y2="324.90" stroke="#000" stroke-width="1"/>
<text x="30.60" y="326.20" font-family='"Liberation Sans", sans-serif' font-size="3.7" font-weight="normal" text-anchor="middle" fill="#222">2</text>
<line x1="36.40" y1="312.55" x2="41.20" y2="312.55" stroke="#000" stroke-width="1"/>
<text x="30.60" y="313.85" font-family='"Liberation Sans", sans-serif' font-size="3.7" font-weight="normal" text-anchor="middle" fill="#222">3</text>
<line x1="36.40" y1="300.20" x2="41.20" y2="300.20" stroke="#000" stroke-width="1"/>
<text x="30.60" y="301.50" font-family='"Liberation Sans", sans-serif' font-size="3.7" font-weight="normal" text-anchor="middle" fill="#222">4</text>
<line x1="36.40" y1="287.85" x2="41.20" y2="287.85" stroke="#000" stroke-width="1"/>
<text x="30.60" y="289.15" font-family='"Liberation Sans", sans-serif' font-size="3.7" font-weight="normal" text-anchor="middle" fill="#222">5</text>
<line x1="36.40" y1="275.50" x2="41.20" y2="275.50" stroke="#000" stroke-width="1"/>
<text x="30.60" y="276.80" font-family='"Liberation Sans", sans-serif' font-size="3.7" font-weight="normal" text-anchor="middle" fill="#222">6</text>
<line x1="36.40" y1="263.15" x2="41.20" y2="263.15" stroke="#000" stroke-width="1"/>
<text x="30.60" y="264.45" font-family='"Liberation Sans", sans-serif' font-size="3.7" font-weight="normal" text-anchor="middle" fill="#222">7</text>
<line x1="36.40" y1="250.80" x2="41.20" y2="250.80" stroke="#000" stroke-width="1"/>
<text x="30.60" y="252.10" font-family='"Liberation Sans", sans-serif' font-size="3.7" font-weight="normal" text-anchor="middle" fill="#222">8</text>
<rect x="50.70" y="344.20" width="2.20" height="5.40" fill="#8ccc3c" stroke="none" stroke-width="1"/>
<rect x="60.70" y="343.00" width="2.20" height="6.60" fill="#8ccc3c" stroke="none" stroke-width="1"/>
<rect x="70.80" y="339.50" width="2.20" height="10.10" fill="#8ccc3c" stroke="none" stroke-width="1"/>
<rect x="81.20" y="313.00" width="2.20" height="36.60" fill="#8ccc3c" stroke="none" stroke-width="1"/>
<rect x="91.10" y="300.40" width="2.20" height="49.20" fill="#8ccc3c" stroke="none" stroke-width="1"/>
<rect x="101.20" y="292.60" width="2.20" height="57.00" fill="#8ccc3c" stroke="none" stroke-width="1"/>
<rect x="111.60" y="299.50" width="2.20" height="50.10" fill="#8ccc3c" stroke="none" stroke-width="1"/>
<rect x="121.90" y="324.30" width="2.20" height="25.30" fill="#8ccc3c" stroke="none" stroke-width="1"/>
<rect x="132.40" y="330.20" width="2.20" height="19.40" fill="#8ccc3c" stroke="none" stroke-width="1"/>
<rect x="142.40" y="340.70" width="2.20" height="8.90" fill="#8ccc3c" stroke="none" stroke-width="1"/>
<rect x="152.80" y="346.80" width="2.20" height="2.80" fill="#8ccc3c" stroke="none" stroke-width="1"/>
<rect x="53.15" y="344.20" width="2.30" height="5.40" fill="#1212c0" stroke="none" stroke-width="1"/>
<rect x="63.45" y="340.00" width="2.30" height="9.60" fill="#1212c0" stroke="none" stroke-width="1"/>
<rect x="73.85" y="335.40" width="2.30" height="14.20" fill="#1212c0" stroke="none" stroke-width="1"/>
<rect x="83.85" y="320.50" width="2.30" height="29.10" fill="#1212c0" stroke="none" stroke-width="1"/>
<rect x="94.15" y="290.50" width="2.30" height="59.10" fill="#1212c0" stroke="none" stroke-width="1"/>
<rect x="104.05" y="258.00" width="2.30" height="91.60" fill="#1212c0" stroke="none" stroke-width="1"/>
<rect x="114.45" y="283.40" width="2.30" height="66.20" fill="#1212c0" stroke="none" stroke-width="1"/>
<rect x="124.55" y="320.30" width="2.30" height="29.30" fill="#1212c0" stroke="none" stroke-width="1"/>
<rect x="134.55" y="333.80" width="2.30" height="15.80" fill="#1212c0" stroke="none" stroke-width="1"/>
<rect x="144.75" y="341.90" width="2.30" height="7.70" fill="#1212c0" stroke="none" stroke-width="1"/>
<rect x="155.15" y="340.70" width="2.30" height="8.90" fill="#1212c0" stroke="none" stroke-width="1"/>
<text x="49.50" y="366.70" font-family='"Liberation Sans", sans-serif' font-size="3.8" font-weight="normal" text-anchor="middle" fill="#333">−200</text>
<text x="69.50" y="366.70" font-family='"Liberation Sans", sans-serif' font-size="3.8" font-weight="normal" text-anchor="middle" fill="#333">−150</text>
<text x="90.30" y="366.70" font-family='"Liberation Sans", sans-serif' font-size="3.8" font-weight="normal" text-anchor="middle" fill="#333">−50</text>
<text x="100.00" y="366.70" font-family='"Liberation Sans", sans-serif' font-size="3.8" font-weight="normal" text-anchor="middle" fill="#333">0</text>
<text x="109.60" y="366.70" font-family='"Liberation Sans", sans-serif' font-size="3.8" font-weight="normal" text-anchor="middle" fill="#333">50</text>
<text x="120.40" y="366.70" font-family='"Liberation Sans", sans-serif' font-size="3.8" font-weight="normal" text-anchor="middle" fill="#333">100</text>
<text x="130.80" y="366.70" font-family='"Liberation Sans", sans-serif' font-size="3.8" font-weight="normal" text-anchor="middle" fill="#333">150</text>
<text x="141.50" y="366.70" font-family='"Liberation Sans", sans-serif' font-size="3.8" font-weight="normal" text-anchor="middle" fill="#333">200</text>
<text x="151.20" y="366.70" font-family='"Liberation Sans", sans-serif' font-size="3.8" font-weight="normal" text-anchor="middle" fill="#333">250</text>
<rect x="108.60" y="250.40" width="53.00" height="26.60" fill="#fff" stroke="#222" stroke-width="0.9"/>
<rect x="114.30" y="255.50" width="3.10" height="3.10" fill="#fff" stroke="#111" stroke-width="0.8"/>
<text x="122.50" y="259.50" font-family='"Liberation Sans", sans-serif' font-size="6.9" font-weight="normal" text-anchor="start" fill="#222">Background</text>
<rect x="114.30" y="262.00" width="3.10" height="3.10" fill="#8ccc3c" stroke="#111" stroke-width="0.8"/>
<text x="122.50" y="266.00" font-family='"Liberation Sans", sans-serif' font-size="6.9" font-weight="normal" text-anchor="start" fill="#222">Constitutive</text>
<rect x="114.30" y="268.50" width="3.10" height="3.10" fill="#1010a0" stroke="#111" stroke-width="0.8"/>
<text x="122.50" y="272.50" font-family='"Liberation Sans", sans-serif' font-size="6.9" font-weight="normal" text-anchor="start" fill="#222">De–Novo</text>
<rect x="289.10" y="254.90" width="16.20" height="7.90" fill="#ff8c00" stroke="#3a2000" stroke-width="0.9"/>
<rect x="306.20" y="260.50" width="16.00" height="2.30" fill="#92cc48" stroke="#2a3a10" stroke-width="0.9"/>
<line x1="288.80" y1="222.90" x2="288.80" y2="263.30" stroke="#000" stroke-width="1.1"/>
<line x1="322.50" y1="222.90" x2="322.50" y2="263.30" stroke="#000" stroke-width="1.1"/>
<line x1="288.80" y1="262.80" x2="322.50" y2="262.80" stroke="#000" stroke-width="1.3"/>
<line x1="285.80" y1="262.80" x2="288.80" y2="262.80" stroke="#000" stroke-width="0.9"/>
<text x="281.40" y="264.80" font-family='"Liberation Sans", sans-serif' font-size="5.7" font-weight="normal" text-anchor="middle" fill="#1a1a1a">0</text>
<line x1="285.80" y1="254.90" x2="288.80" y2="254.90" stroke="#000" stroke-width="0.9"/>
<text x="281.40" y="256.90" font-family='"Liberation Sans", sans-serif' font-size="5.7" font-weight="normal" text-anchor="middle" fill="#1a1a1a">1</text>
<line x1="285.80" y1="247.00" x2="288.80" y2="247.00" stroke="#000" stroke-width="0.9"/>
<text x="281.40" y="249.00" font-family='"Liberation Sans", sans-serif' font-size="5.7" font-weight="normal" text-anchor="middle" fill="#1a1a1a">2</text>
<line x1="285.80" y1="239.10" x2="288.80" y2="239.10" stroke="#000" stroke-width="0.9"/>
<text x="281.40" y="241.10" font-family='"Liberation Sans", sans-serif' font-size="5.7" font-weight="normal" text-anchor="middle" fill="#1a1a1a">3</text>
<line x1="285.80" y1="231.20" x2="288.80" y2="231.20" stroke="#000" stroke-width="0.9"/>
<text x="281.40" y="233.20" font-family='"Liberation Sans", sans-serif' font-size="5.7" font-weight="normal" text-anchor="middle" fill="#1a1a1a">4</text>
<line x1="285.80" y1="223.30" x2="288.80" y2="223.30" stroke="#000" stroke-width="0.9"/>
<text x="281.40" y="225.30" font-family='"Liberation Sans", sans-serif' font-size="5.7" font-weight="normal" text-anchor="middle" fill="#1a1a1a">5</text>
<line x1="322.50" y1="262.80" x2="325.20" y2="262.80" stroke="#000" stroke-width="0.9"/>
<text x="326.90" y="264.80" font-family='"Liberation Sans", sans-serif' font-size="5.7" font-weight="normal" text-anchor="start" fill="#1a1a1a">0</text>
<line x1="322.50" y1="257.16" x2="325.20" y2="257.16" stroke="#000" stroke-width="0.9"/>
<text x="326.90" y="259.16" font-family='"Liberation Sans", sans-serif' font-size="5.7" font-weight="normal" text-anchor="start" fill="#1a1a1a">2</text>
<line x1="322.50" y1="251.51" x2="325.20" y2="251.51" stroke="#000" stroke-width="0.9"/>
<text x="326.90" y="253.51" font-family='"Liberation Sans", sans-serif' font-size="5.7" font-weight="normal" text-anchor="start" fill="#1a1a1a">4</text>
<line x1="322.50" y1="245.87" x2="325.20" y2="245.87" stroke="#000" stroke-width="0.9"/>
<text x="326.90" y="247.87" font-family='"Liberation Sans", sans-serif' font-size="5.7" font-weight="normal" text-anchor="start" fill="#1a1a1a">6</text>
<line x1="322.50" y1="240.23" x2="325.20" y2="240.23" stroke="#000" stroke-width="0.9"/>
<text x="326.90" y="242.23" font-family='"Liberation Sans", sans-serif' font-size="5.7" font-weight="normal" text-anchor="start" fill="#1a1a1a">8</text>
<line x1="322.50" y1="234.59" x2="325.20" y2="234.59" stroke="#000" stroke-width="0.9"/>
<text x="326.90" y="236.59" font-family='"Liberation Sans", sans-serif' font-size="5.7" font-weight="normal" text-anchor="start" fill="#1a1a1a">10</text>
<line x1="322.50" y1="228.94" x2="325.20" y2="228.94" stroke="#000" stroke-width="0.9"/>
<text x="326.90" y="230.94" font-family='"Liberation Sans", sans-serif' font-size="5.7" font-weight="normal" text-anchor="start" fill="#1a1a1a">12</text>
<line x1="322.50" y1="223.30" x2="325.20" y2="223.30" stroke="#000" stroke-width="0.9"/>
<text x="326.90" y="225.30" font-family='"Liberation Sans", sans-serif' font-size="5.7" font-weight="normal" text-anchor="start" fill="#1a1a1a">14</text>
<text x="295.70" y="274.70" font-family='"Liberation Sans", sans-serif' font-size="5.3" font-weight="normal" text-anchor="middle" fill="#222">Runx</text>
<text x="313.80" y="274.70" font-family='"Liberation Sans", sans-serif' font-size="5.3" font-weight="normal" text-anchor="middle" fill="#222">Ap–1</text>
<rect x="365.80" y="260.80" width="16.20" height="2.00" fill="#b8661e" stroke="#3a2000" stroke-width="0.9"/>
<rect x="382.90" y="229.80" width="16.00" height="33.00" fill="#92cc48" stroke="#2a3a10" stroke-width="0.9"/>
<line x1="365.50" y1="222.90" x2="365.50" y2="263.30" stroke="#000" stroke-width="1.1"/>
<line x1="399.20" y1="222.90" x2="399.20" y2="263.30" stroke="#000" stroke-width="1.1"/>
<line x1="365.50" y1="262.80" x2="399.20" y2="262.80" stroke="#000" stroke-width="1.3"/>
<line x1="362.50" y1="262.80" x2="365.50" y2="262.80" stroke="#000" stroke-width="0.9"/>
<text x="358.10" y="264.80" font-family='"Liberation Sans", sans-serif' font-size="5.7" font-weight="normal" text-anchor="middle" fill="#1a1a1a">0</text>
<line x1="362.50" y1="254.90" x2="365.50" y2="254.90" stroke="#000" stroke-width="0.9"/>
<text x="358.10" y="256.90" font-family='"Liberation Sans", sans-serif' font-size="5.7" font-weight="normal" text-anchor="middle" fill="#1a1a1a">1</text>
<line x1="362.50" y1="247.00" x2="365.50" y2="247.00" stroke="#000" stroke-width="0.9"/>
<text x="358.10" y="249.00" font-family='"Liberation Sans", sans-serif' font-size="5.7" font-weight="normal" text-anchor="middle" fill="#1a1a1a">2</text>
<line x1="362.50" y1="239.10" x2="365.50" y2="239.10" stroke="#000" stroke-width="0.9"/>
<text x="358.10" y="241.10" font-family='"Liberation Sans", sans-serif' font-size="5.7" font-weight="normal" text-anchor="middle" fill="#1a1a1a">3</text>
<line x1="362.50" y1="231.20" x2="365.50" y2="231.20" stroke="#000" stroke-width="0.9"/>
<text x="358.10" y="233.20" font-family='"Liberation Sans", sans-serif' font-size="5.7" font-weight="normal" text-anchor="middle" fill="#1a1a1a">4</text>
<line x1="362.50" y1="223.30" x2="365.50" y2="223.30" stroke="#000" stroke-width="0.9"/>
<text x="358.10" y="225.30" font-family='"Liberation Sans", sans-serif' font-size="5.7" font-weight="normal" text-anchor="middle" fill="#1a1a1a">5</text>
<line x1="399.20" y1="262.80" x2="401.90" y2="262.80" stroke="#000" stroke-width="0.9"/>
<text x="403.60" y="264.80" font-family='"Liberation Sans", sans-serif' font-size="5.7" font-weight="normal" text-anchor="start" fill="#1a1a1a">0</text>
<line x1="399.20" y1="257.16" x2="401.90" y2="257.16" stroke="#000" stroke-width="0.9"/>
<text x="403.60" y="259.16" font-family='"Liberation Sans", sans-serif' font-size="5.7" font-weight="normal" text-anchor="start" fill="#1a1a1a">2</text>
<line x1="399.20" y1="251.51" x2="401.90" y2="251.51" stroke="#000" stroke-width="0.9"/>
<text x="403.60" y="253.51" font-family='"Liberation Sans", sans-serif' font-size="5.7" font-weight="normal" text-anchor="start" fill="#1a1a1a">4</text>
<line x1="399.20" y1="245.87" x2="401.90" y2="245.87" stroke="#000" stroke-width="0.9"/>
<text x="403.60" y="247.87" font-family='"Liberation Sans", sans-serif' font-size="5.7" font-weight="normal" text-anchor="start" fill="#1a1a1a">6</text>
<line x1="399.20" y1="240.23" x2="401.90" y2="240.23" stroke="#000" stroke-width="0.9"/>
<text x="403.60" y="242.23" font-family='"Liberation Sans", sans-serif' font-size="5.7" font-weight="normal" text-anchor="start" fill="#1a1a1a">8</text>
<line x1="399.20" y1="234.59" x2="401.90" y2="234.59" stroke="#000" stroke-width="0.9"/>
<text x="403.60" y="236.59" font-family='"Liberation Sans", sans-serif' font-size="5.7" font-weight="normal" text-anchor="start" fill="#1a1a1a">10</text>
<line x1="399.20" y1="228.94" x2="401.90" y2="228.94" stroke="#000" stroke-width="0.9"/>
<text x="403.60" y="230.94" font-family='"Liberation Sans", sans-serif' font-size="5.7" font-weight="normal" text-anchor="start" fill="#1a1a1a">12</text>
<line x1="399.20" y1="223.30" x2="401.90" y2="223.30" stroke="#000" stroke-width="0.9"/>
<text x="403.60" y="225.30" font-family='"Liberation Sans", sans-serif' font-size="5.7" font-weight="normal" text-anchor="start" fill="#1a1a1a">14</text>
<text x="372.40" y="274.70" font-family='"Liberation Sans", sans-serif' font-size="5.3" font-weight="normal" text-anchor="middle" fill="#222">Runx</text>
<text x="390.50" y="274.70" font-family='"Liberation Sans", sans-serif' font-size="5.3" font-weight="normal" text-anchor="middle" fill="#222">Ap–1</text>
<rect x="442.30" y="261.60" width="16.20" height="1.20" fill="#b8661e" stroke="#3a2000" stroke-width="0.9"/>
<rect x="459.40" y="238.40" width="16.00" height="24.40" fill="#92cc48" stroke="#2a3a10" stroke-width="0.9"/>
<line x1="442.00" y1="222.90" x2="442.00" y2="263.30" stroke="#000" stroke-width="1.1"/>
<line x1="475.70" y1="222.90" x2="475.70" y2="263.30" stroke="#000" stroke-width="1.1"/>
<line x1="442.00" y1="262.80" x2="475.70" y2="262.80" stroke="#000" stroke-width="1.3"/>
<line x1="439.00" y1="262.80" x2="442.00" y2="262.80" stroke="#000" stroke-width="0.9"/>
<text x="434.60" y="264.80" font-family='"Liberation Sans", sans-serif' font-size="5.7" font-weight="normal" text-anchor="middle" fill="#1a1a1a">0</text>
<line x1="439.00" y1="254.90" x2="442.00" y2="254.90" stroke="#000" stroke-width="0.9"/>
<text x="434.60" y="256.90" font-family='"Liberation Sans", sans-serif' font-size="5.7" font-weight="normal" text-anchor="middle" fill="#1a1a1a">1</text>
<line x1="439.00" y1="247.00" x2="442.00" y2="247.00" stroke="#000" stroke-width="0.9"/>
<text x="434.60" y="249.00" font-family='"Liberation Sans", sans-serif' font-size="5.7" font-weight="normal" text-anchor="middle" fill="#1a1a1a">2</text>
<line x1="439.00" y1="239.10" x2="442.00" y2="239.10" stroke="#000" stroke-width="0.9"/>
<text x="434.60" y="241.10" font-family='"Liberation Sans", sans-serif' font-size="5.7" font-weight="normal" text-anchor="middle" fill="#1a1a1a">3</text>
<line x1="439.00" y1="231.20" x2="442.00" y2="231.20" stroke="#000" stroke-width="0.9"/>
<text x="434.60" y="233.20" font-family='"Liberation Sans", sans-serif' font-size="5.7" font-weight="normal" text-anchor="middle" fill="#1a1a1a">4</text>
<line x1="439.00" y1="223.30" x2="442.00" y2="223.30" stroke="#000" stroke-width="0.9"/>
<text x="434.60" y="225.30" font-family='"Liberation Sans", sans-serif' font-size="5.7" font-weight="normal" text-anchor="middle" fill="#1a1a1a">5</text>
<line x1="475.70" y1="262.80" x2="478.40" y2="262.80" stroke="#000" stroke-width="0.9"/>
<text x="480.10" y="264.80" font-family='"Liberation Sans", sans-serif' font-size="5.7" font-weight="normal" text-anchor="start" fill="#1a1a1a">0</text>
<line x1="475.70" y1="257.16" x2="478.40" y2="257.16" stroke="#000" stroke-width="0.9"/>
<text x="480.10" y="259.16" font-family='"Liberation Sans", sans-serif' font-size="5.7" font-weight="normal" text-anchor="start" fill="#1a1a1a">2</text>
<line x1="475.70" y1="251.51" x2="478.40" y2="251.51" stroke="#000" stroke-width="0.9"/>
<text x="480.10" y="253.51" font-family='"Liberation Sans", sans-serif' font-size="5.7" font-weight="normal" text-anchor="start" fill="#1a1a1a">4</text>
<line x1="475.70" y1="245.87" x2="478.40" y2="245.87" stroke="#000" stroke-width="0.9"/>
<text x="480.10" y="247.87" font-family='"Liberation Sans", sans-serif' font-size="5.7" font-weight="normal" text-anchor="start" fill="#1a1a1a">6</text>
<line x1="475.70" y1="240.23" x2="478.40" y2="240.23" stroke="#000" stroke-width="0.9"/>
<text x="480.10" y="242.23" font-family='"Liberation Sans", sans-serif' font-size="5.7" font-weight="normal" text-anchor="start" fill="#1a1a1a">8</text>
<line x1="475.70" y1="234.59" x2="478.40" y2="234.59" stroke="#000" stroke-width="0.9"/>
<text x="480.10" y="236.59" font-family='"Liberation Sans", sans-serif' font-size="5.7" font-weight="normal" text-anchor="start" fill="#1a1a1a">10</text>
<line x1="475.70" y1="228.94" x2="478.40" y2="228.94" stroke="#000" stroke-width="0.9"/>
<text x="480.10" y="230.94" font-family='"Liberation Sans", sans-serif' font-size="5.7" font-weight="normal" text-anchor="start" fill="#1a1a1a">12</text>
<line x1="475.70" y1="223.30" x2="478.40" y2="223.30" stroke="#000" stroke-width="0.9"/>
<text x="480.10" y="225.30" font-family='"Liberation Sans", sans-serif' font-size="5.7" font-weight="normal" text-anchor="start" fill="#1a1a1a">14</text>
<text x="448.90" y="274.70" font-family='"Liberation Sans", sans-serif' font-size="5.3" font-weight="normal" text-anchor="middle" fill="#222">Runx</text>
<text x="467.00" y="274.70" font-family='"Liberation Sans", sans-serif' font-size="5.3" font-weight="normal" text-anchor="middle" fill="#222">Ap–1</text>
<rect x="289.10" y="283.80" width="16.20" height="39.70" fill="#ff8c00" stroke="#3a2000" stroke-width="0.9"/>
<rect x="306.20" y="319.60" width="16.00" height="3.90" fill="#92cc48" stroke="#2a3a10" stroke-width="0.9"/>
<line x1="288.80" y1="283.40" x2="288.80" y2="324.00" stroke="#000" stroke-width="1.1"/>
<line x1="322.50" y1="283.40" x2="322.50" y2="324.00" stroke="#000" stroke-width="1.1"/>
<line x1="288.80" y1="323.50" x2="322.50" y2="323.50" stroke="#000" stroke-width="1.3"/>
<line x1="285.80" y1="323.50" x2="288.80" y2="323.50" stroke="#000" stroke-width="0.9"/>
<text x="281.40" y="325.50" font-family='"Liberation Sans", sans-serif' font-size="5.7" font-weight="normal" text-anchor="middle" fill="#1a1a1a">0</text>
<line x1="285.80" y1="315.56" x2="288.80" y2="315.56" stroke="#000" stroke-width="0.9"/>
<text x="281.40" y="317.56" font-family='"Liberation Sans", sans-serif' font-size="5.7" font-weight="normal" text-anchor="middle" fill="#1a1a1a">1</text>
<line x1="285.80" y1="307.62" x2="288.80" y2="307.62" stroke="#000" stroke-width="0.9"/>
<text x="281.40" y="309.62" font-family='"Liberation Sans", sans-serif' font-size="5.7" font-weight="normal" text-anchor="middle" fill="#1a1a1a">2</text>
<line x1="285.80" y1="299.68" x2="288.80" y2="299.68" stroke="#000" stroke-width="0.9"/>
<text x="281.40" y="301.68" font-family='"Liberation Sans", sans-serif' font-size="5.7" font-weight="normal" text-anchor="middle" fill="#1a1a1a">3</text>
<line x1="285.80" y1="291.74" x2="288.80" y2="291.74" stroke="#000" stroke-width="0.9"/>
<text x="281.40" y="293.74" font-family='"Liberation Sans", sans-serif' font-size="5.7" font-weight="normal" text-anchor="middle" fill="#1a1a1a">4</text>
<line x1="285.80" y1="283.80" x2="288.80" y2="283.80" stroke="#000" stroke-width="0.9"/>
<text x="281.40" y="285.80" font-family='"Liberation Sans", sans-serif' font-size="5.7" font-weight="normal" text-anchor="middle" fill="#1a1a1a">5</text>
<line x1="322.50" y1="323.50" x2="325.20" y2="323.50" stroke="#000" stroke-width="0.9"/>
<text x="326.90" y="325.50" font-family='"Liberation Sans", sans-serif' font-size="5.7" font-weight="normal" text-anchor="start" fill="#1a1a1a">0</text>
<line x1="322.50" y1="317.83" x2="325.20" y2="317.83" stroke="#000" stroke-width="0.9"/>
<text x="326.90" y="319.83" font-family='"Liberation Sans", sans-serif' font-size="5.7" font-weight="normal" text-anchor="start" fill="#1a1a1a">2</text>
<line x1="322.50" y1="312.16" x2="325.20" y2="312.16" stroke="#000" stroke-width="0.9"/>
<text x="326.90" y="314.16" font-family='"Liberation Sans", sans-serif' font-size="5.7" font-weight="normal" text-anchor="start" fill="#1a1a1a">4</text>
<line x1="322.50" y1="306.49" x2="325.20" y2="306.49" stroke="#000" stroke-width="0.9"/>
<text x="326.90" y="308.49" font-family='"Liberation Sans", sans-serif' font-size="5.7" font-weight="normal" text-anchor="start" fill="#1a1a1a">6</text>
<line x1="322.50" y1="300.81" x2="325.20" y2="300.81" stroke="#000" stroke-width="0.9"/>
<text x="326.90" y="302.81" font-family='"Liberation Sans", sans-serif' font-size="5.7" font-weight="normal" text-anchor="start" fill="#1a1a1a">8</text>
<line x1="322.50" y1="295.14" x2="325.20" y2="295.14" stroke="#000" stroke-width="0.9"/>
<text x="326.90" y="297.14" font-family='"Liberation Sans", sans-serif' font-size="5.7" font-weight="normal" text-anchor="start" fill="#1a1a1a">10</text>
<line x1="322.50" y1="289.47" x2="325.20" y2="289.47" stroke="#000" stroke-width="0.9"/>
<text x="326.90" y="291.47" font-family='"Liberation Sans", sans-serif' font-size="5.7" font-weight="normal" text-anchor="start" fill="#1a1a1a">12</text>
<line x1="322.50" y1="283.80" x2="325.20" y2="283.80" stroke="#000" stroke-width="0.9"/>
<text x="326.90" y="285.80" font-family='"Liberation Sans", sans-serif' font-size="5.7" font-weight="normal" text-anchor="start" fill="#1a1a1a">14</text>
<text x="295.70" y="335.40" font-family='"Liberation Sans", sans-serif' font-size="5.3" font-weight="normal" text-anchor="middle" fill="#222">Runx</text>
<text x="313.80" y="335.40" font-family='"Liberation Sans", sans-serif' font-size="5.3" font-weight="normal" text-anchor="middle" fill="#222">Ap–1</text>
<rect x="365.80" y="304.50" width="16.20" height="19.00" fill="#ff8c00" stroke="#3a2000" stroke-width="0.9"/>
<rect x="382.90" y="299.80" width="16.00" height="23.70" fill="#92cc48" stroke="#2a3a10" stroke-width="0.9"/>
<line x1="365.50" y1="283.40" x2="365.50" y2="324.00" stroke="#000" stroke-width="1.1"/>
<line x1="399.20" y1="283.40" x2="399.20" y2="324.00" stroke="#000" stroke-width="1.1"/>
<line x1="365.50" y1="323.50" x2="399.20" y2="323.50" stroke="#000" stroke-width="1.3"/>
<line x1="362.50" y1="323.50" x2="365.50" y2="323.50" stroke="#000" stroke-width="0.9"/>
<text x="358.10" y="325.50" font-family='"Liberation Sans", sans-serif' font-size="5.7" font-weight="normal" text-anchor="middle" fill="#1a1a1a">0</text>
<line x1="362.50" y1="315.56" x2="365.50" y2="315.56" stroke="#000" stroke-width="0.9"/>
<text x="358.10" y="317.56" font-family='"Liberation Sans", sans-serif' font-size="5.7" font-weight="normal" text-anchor="middle" fill="#1a1a1a">1</text>
<line x1="362.50" y1="307.62" x2="365.50" y2="307.62" stroke="#000" stroke-width="0.9"/>
<text x="358.10" y="309.62" font-family='"Liberation Sans", sans-serif' font-size="5.7" font-weight="normal" text-anchor="middle" fill="#1a1a1a">2</text>
<line x1="362.50" y1="299.68" x2="365.50" y2="299.68" stroke="#000" stroke-width="0.9"/>
<text x="358.10" y="301.68" font-family='"Liberation Sans", sans-serif' font-size="5.7" font-weight="normal" text-anchor="middle" fill="#1a1a1a">3</text>
<line x1="362.50" y1="291.74" x2="365.50" y2="291.74" stroke="#000" stroke-width="0.9"/>
<text x="358.10" y="293.74" font-family='"Liberation Sans", sans-serif' font-size="5.7" font-weight="normal" text-anchor="middle" fill="#1a1a1a">4</text>
<line x1="362.50" y1="283.80" x2="365.50" y2="283.80" stroke="#000" stroke-width="0.9"/>
<text x="358.10" y="285.80" font-family='"Liberation Sans", sans-serif' font-size="5.7" font-weight="normal" text-anchor="middle" fill="#1a1a1a">5</text>
<line x1="399.20" y1="323.50" x2="401.90" y2="323.50" stroke="#000" stroke-width="0.9"/>
<text x="403.60" y="325.50" font-family='"Liberation Sans", sans-serif' font-size="5.7" font-weight="normal" text-anchor="start" fill="#1a1a1a">0</text>
<line x1="399.20" y1="317.83" x2="401.90" y2="317.83" stroke="#000" stroke-width="0.9"/>
<text x="403.60" y="319.83" font-family='"Liberation Sans", sans-serif' font-size="5.7" font-weight="normal" text-anchor="start" fill="#1a1a1a">2</text>
<line x1="399.20" y1="312.16" x2="401.90" y2="312.16" stroke="#000" stroke-width="0.9"/>
<text x="403.60" y="314.16" font-family='"Liberation Sans", sans-serif' font-size="5.7" font-weight="normal" text-anchor="start" fill="#1a1a1a">4</text>
<line x1="399.20" y1="306.49" x2="401.90" y2="306.49" stroke="#000" stroke-width="0.9"/>
<text x="403.60" y="308.49" font-family='"Liberation Sans", sans-serif' font-size="5.7" font-weight="normal" text-anchor="start" fill="#1a1a1a">6</text>
<line x1="399.20" y1="300.81" x2="401.90" y2="300.81" stroke="#000" stroke-width="0.9"/>
<text x="403.60" y="302.81" font-family='"Liberation Sans", sans-serif' font-size="5.7" font-weight="normal" text-anchor="start" fill="#1a1a1a">8</text>
<line x1="399.20" y1="295.14" x2="401.90" y2="295.14" stroke="#000" stroke-width="0.9"/>
<text x="403.60" y="297.14" font-family='"Liberation Sans", sans-serif' font-size="5.7" font-weight="normal" text-anchor="start" fill="#1a1a1a">10</text>
<line x1="399.20" y1="289.47" x2="401.90" y2="289.47" stroke="#000" stroke-width="0.9"/>
<text x="403.60" y="291.47" font-family='"Liberation Sans", sans-serif' font-size="5.7" font-weight="normal" text-anchor="start" fill="#1a1a1a">12</text>
<line x1="399.20" y1="283.80" x2="401.90" y2="283.80" stroke="#000" stroke-width="0.9"/>
<text x="403.60" y="285.80" font-family='"Liberation Sans", sans-serif' font-size="5.7" font-weight="normal" text-anchor="start" fill="#1a1a1a">14</text>
<text x="372.40" y="335.40" font-family='"Liberation Sans", sans-serif' font-size="5.3" font-weight="normal" text-anchor="middle" fill="#222">Runx</text>
<text x="390.50" y="335.40" font-family='"Liberation Sans", sans-serif' font-size="5.3" font-weight="normal" text-anchor="middle" fill="#222">Ap–1</text>
<rect x="442.30" y="294.00" width="16.20" height="29.50" fill="#ff8c00" stroke="#3a2000" stroke-width="0.9"/>
<rect x="459.40" y="315.20" width="16.00" height="8.30" fill="#92cc48" stroke="#2a3a10" stroke-width="0.9"/>
<line x1="442.00" y1="283.40" x2="442.00" y2="324.00" stroke="#000" stroke-width="1.1"/>
<line x1="475.70" y1="283.40" x2="475.70" y2="324.00" stroke="#000" stroke-width="1.1"/>
<line x1="442.00" y1="323.50" x2="475.70" y2="323.50" stroke="#000" stroke-width="1.3"/>
<line x1="439.00" y1="323.50" x2="442.00" y2="323.50" stroke="#000" stroke-width="0.9"/>
<text x="434.60" y="325.50" font-family='"Liberation Sans", sans-serif' font-size="5.7" font-weight="normal" text-anchor="middle" fill="#1a1a1a">0</text>
<line x1="439.00" y1="315.56" x2="442.00" y2="315.56" stroke="#000" stroke-width="0.9"/>
<text x="434.60" y="317.56" font-family='"Liberation Sans", sans-serif' font-size="5.7" font-weight="normal" text-anchor="middle" fill="#1a1a1a">1</text>
<line x1="439.00" y1="307.62" x2="442.00" y2="307.62" stroke="#000" stroke-width="0.9"/>
<text x="434.60" y="309.62" font-family='"Liberation Sans", sans-serif' font-size="5.7" font-weight="normal" text-anchor="middle" fill="#1a1a1a">2</text>
<line x1="439.00" y1="299.68" x2="442.00" y2="299.68" stroke="#000" stroke-width="0.9"/>
<text x="434.60" y="301.68" font-family='"Liberation Sans", sans-serif' font-size="5.7" font-weight="normal" text-anchor="middle" fill="#1a1a1a">3</text>
<line x1="439.00" y1="291.74" x2="442.00" y2="291.74" stroke="#000" stroke-width="0.9"/>
<text x="434.60" y="293.74" font-family='"Liberation Sans", sans-serif' font-size="5.7" font-weight="normal" text-anchor="middle" fill="#1a1a1a">4</text>
<line x1="439.00" y1="283.80" x2="442.00" y2="283.80" stroke="#000" stroke-width="0.9"/>
<text x="434.60" y="285.80" font-family='"Liberation Sans", sans-serif' font-size="5.7" font-weight="normal" text-anchor="middle" fill="#1a1a1a">5</text>
<line x1="475.70" y1="323.50" x2="478.40" y2="323.50" stroke="#000" stroke-width="0.9"/>
<text x="480.10" y="325.50" font-family='"Liberation Sans", sans-serif' font-size="5.7" font-weight="normal" text-anchor="start" fill="#1a1a1a">0</text>
<line x1="475.70" y1="317.83" x2="478.40" y2="317.83" stroke="#000" stroke-width="0.9"/>
<text x="480.10" y="319.83" font-family='"Liberation Sans", sans-serif' font-size="5.7" font-weight="normal" text-anchor="start" fill="#1a1a1a">2</text>
<line x1="475.70" y1="312.16" x2="478.40" y2="312.16" stroke="#000" stroke-width="0.9"/>
<text x="480.10" y="314.16" font-family='"Liberation Sans", sans-serif' font-size="5.7" font-weight="normal" text-anchor="start" fill="#1a1a1a">4</text>
<line x1="475.70" y1="306.49" x2="478.40" y2="306.49" stroke="#000" stroke-width="0.9"/>
<text x="480.10" y="308.49" font-family='"Liberation Sans", sans-serif' font-size="5.7" font-weight="normal" text-anchor="start" fill="#1a1a1a">6</text>
<line x1="475.70" y1="300.81" x2="478.40" y2="300.81" stroke="#000" stroke-width="0.9"/>
<text x="480.10" y="302.81" font-family='"Liberation Sans", sans-serif' font-size="5.7" font-weight="normal" text-anchor="start" fill="#1a1a1a">8</text>
<line x1="475.70" y1="295.14" x2="478.40" y2="295.14" stroke="#000" stroke-width="0.9"/>
<text x="480.10" y="297.14" font-family='"Liberation Sans", sans-serif' font-size="5.7" font-weight="normal" text-anchor="start" fill="#1a1a1a">10</text>
<line x1="475.70" y1="289.47" x2="478.40" y2="289.47" stroke="#000" stroke-width="0.9"/>
<text x="480.10" y="291.47" font-family='"Liberation Sans", sans-serif' font-size="5.7" font-weight="normal" text-anchor="start" fill="#1a1a1a">12</text>
<line x1="475.70" y1="283.80" x2="478.40" y2="283.80" stroke="#000" stroke-width="0.9"/>
<text x="480.10" y="285.80" font-family='"Liberation Sans", sans-serif' font-size="5.7" font-weight="normal" text-anchor="start" fill="#1a1a1a">14</text>
<text x="448.90" y="335.40" font-family='"Liberation Sans", sans-serif' font-size="5.3" font-weight="normal" text-anchor="middle" fill="#222">Runx</text>
<text x="467.00" y="335.40" font-family='"Liberation Sans", sans-serif' font-size="5.3" font-weight="normal" text-anchor="middle" fill="#222">Ap–1</text>
<rect x="289.10" y="361.20" width="16.20" height="23.70" fill="#ff8c00" stroke="#3a2000" stroke-width="0.9"/>
<rect x="306.20" y="373.50" width="16.00" height="11.40" fill="#92cc48" stroke="#2a3a10" stroke-width="0.9"/>
<line x1="288.80" y1="345.00" x2="288.80" y2="385.40" stroke="#000" stroke-width="1.1"/>
<line x1="322.50" y1="345.00" x2="322.50" y2="385.40" stroke="#000" stroke-width="1.1"/>
<line x1="288.80" y1="384.90" x2="322.50" y2="384.90" stroke="#000" stroke-width="1.3"/>
<line x1="285.80" y1="384.90" x2="288.80" y2="384.90" stroke="#000" stroke-width="0.9"/>
<text x="281.40" y="386.90" font-family='"Liberation Sans", sans-serif' font-size="5.7" font-weight="normal" text-anchor="middle" fill="#1a1a1a">0</text>
<line x1="285.80" y1="377.00" x2="288.80" y2="377.00" stroke="#000" stroke-width="0.9"/>
<text x="281.40" y="379.00" font-family='"Liberation Sans", sans-serif' font-size="5.7" font-weight="normal" text-anchor="middle" fill="#1a1a1a">1</text>
<line x1="285.80" y1="369.10" x2="288.80" y2="369.10" stroke="#000" stroke-width="0.9"/>
<text x="281.40" y="371.10" font-family='"Liberation Sans", sans-serif' font-size="5.7" font-weight="normal" text-anchor="middle" fill="#1a1a1a">2</text>
<line x1="285.80" y1="361.20" x2="288.80" y2="361.20" stroke="#000" stroke-width="0.9"/>
<text x="281.40" y="363.20" font-family='"Liberation Sans", sans-serif' font-size="5.7" font-weight="normal" text-anchor="middle" fill="#1a1a1a">3</text>
<line x1="285.80" y1="353.30" x2="288.80" y2="353.30" stroke="#000" stroke-width="0.9"/>
<text x="281.40" y="355.30" font-family='"Liberation Sans", sans-serif' font-size="5.7" font-weight="normal" text-anchor="middle" fill="#1a1a1a">4</text>
<line x1="285.80" y1="345.40" x2="288.80" y2="345.40" stroke="#000" stroke-width="0.9"/>
<text x="281.40" y="347.40" font-family='"Liberation Sans", sans-serif' font-size="5.7" font-weight="normal" text-anchor="middle" fill="#1a1a1a">5</text>
<line x1="322.50" y1="384.90" x2="325.20" y2="384.90" stroke="#000" stroke-width="0.9"/>
<text x="326.90" y="386.90" font-family='"Liberation Sans", sans-serif' font-size="5.7" font-weight="normal" text-anchor="start" fill="#1a1a1a">0</text>
<line x1="322.50" y1="379.26" x2="325.20" y2="379.26" stroke="#000" stroke-width="0.9"/>
<text x="326.90" y="381.26" font-family='"Liberation Sans", sans-serif' font-size="5.7" font-weight="normal" text-anchor="start" fill="#1a1a1a">2</text>
<line x1="322.50" y1="373.61" x2="325.20" y2="373.61" stroke="#000" stroke-width="0.9"/>
<text x="326.90" y="375.61" font-family='"Liberation Sans", sans-serif' font-size="5.7" font-weight="normal" text-anchor="start" fill="#1a1a1a">4</text>
<line x1="322.50" y1="367.97" x2="325.20" y2="367.97" stroke="#000" stroke-width="0.9"/>
<text x="326.90" y="369.97" font-family='"Liberation Sans", sans-serif' font-size="5.7" font-weight="normal" text-anchor="start" fill="#1a1a1a">6</text>
<line x1="322.50" y1="362.33" x2="325.20" y2="362.33" stroke="#000" stroke-width="0.9"/>
<text x="326.90" y="364.33" font-family='"Liberation Sans", sans-serif' font-size="5.7" font-weight="normal" text-anchor="start" fill="#1a1a1a">8</text>
<line x1="322.50" y1="356.69" x2="325.20" y2="356.69" stroke="#000" stroke-width="0.9"/>
<text x="326.90" y="358.69" font-family='"Liberation Sans", sans-serif' font-size="5.7" font-weight="normal" text-anchor="start" fill="#1a1a1a">10</text>
<line x1="322.50" y1="351.04" x2="325.20" y2="351.04" stroke="#000" stroke-width="0.9"/>
<text x="326.90" y="353.04" font-family='"Liberation Sans", sans-serif' font-size="5.7" font-weight="normal" text-anchor="start" fill="#1a1a1a">12</text>
<line x1="322.50" y1="345.40" x2="325.20" y2="345.40" stroke="#000" stroke-width="0.9"/>
<text x="326.90" y="347.40" font-family='"Liberation Sans", sans-serif' font-size="5.7" font-weight="normal" text-anchor="start" fill="#1a1a1a">14</text>
<text x="295.70" y="396.80" font-family='"Liberation Sans", sans-serif' font-size="5.3" font-weight="normal" text-anchor="middle" fill="#222">Runx</text>
<text x="313.80" y="396.80" font-family='"Liberation Sans", sans-serif' font-size="5.3" font-weight="normal" text-anchor="middle" fill="#222">Ap–1</text>
<rect x="365.80" y="377.70" width="16.20" height="7.20" fill="#ff8c00" stroke="#3a2000" stroke-width="0.9"/>
<rect x="382.90" y="349.00" width="16.00" height="35.90" fill="#92cc48" stroke="#2a3a10" stroke-width="0.9"/>
<line x1="365.50" y1="345.00" x2="365.50" y2="385.40" stroke="#000" stroke-width="1.1"/>
<line x1="399.20" y1="345.00" x2="399.20" y2="385.40" stroke="#000" stroke-width="1.1"/>
<line x1="365.50" y1="384.90" x2="399.20" y2="384.90" stroke="#000" stroke-width="1.3"/>
<line x1="362.50" y1="384.90" x2="365.50" y2="384.90" stroke="#000" stroke-width="0.9"/>
<text x="358.10" y="386.90" font-family='"Liberation Sans", sans-serif' font-size="5.7" font-weight="normal" text-anchor="middle" fill="#1a1a1a">0</text>
<line x1="362.50" y1="377.00" x2="365.50" y2="377.00" stroke="#000" stroke-width="0.9"/>
<text x="358.10" y="379.00" font-family='"Liberation Sans", sans-serif' font-size="5.7" font-weight="normal" text-anchor="middle" fill="#1a1a1a">1</text>
<line x1="362.50" y1="369.10" x2="365.50" y2="369.10" stroke="#000" stroke-width="0.9"/>
<text x="358.10" y="371.10" font-family='"Liberation Sans", sans-serif' font-size="5.7" font-weight="normal" text-anchor="middle" fill="#1a1a1a">2</text>
<line x1="362.50" y1="361.20" x2="365.50" y2="361.20" stroke="#000" stroke-width="0.9"/>
<text x="358.10" y="363.20" font-family='"Liberation Sans", sans-serif' font-size="5.7" font-weight="normal" text-anchor="middle" fill="#1a1a1a">3</text>
<line x1="362.50" y1="353.30" x2="365.50" y2="353.30" stroke="#000" stroke-width="0.9"/>
<text x="358.10" y="355.30" font-family='"Liberation Sans", sans-serif' font-size="5.7" font-weight="normal" text-anchor="middle" fill="#1a1a1a">4</text>
<line x1="362.50" y1="345.40" x2="365.50" y2="345.40" stroke="#000" stroke-width="0.9"/>
<text x="358.10" y="347.40" font-family='"Liberation Sans", sans-serif' font-size="5.7" font-weight="normal" text-anchor="middle" fill="#1a1a1a">5</text>
<line x1="399.20" y1="384.90" x2="401.90" y2="384.90" stroke="#000" stroke-width="0.9"/>
<text x="403.60" y="386.90" font-family='"Liberation Sans", sans-serif' font-size="5.7" font-weight="normal" text-anchor="start" fill="#1a1a1a">0</text>
<line x1="399.20" y1="379.26" x2="401.90" y2="379.26" stroke="#000" stroke-width="0.9"/>
<text x="403.60" y="381.26" font-family='"Liberation Sans", sans-serif' font-size="5.7" font-weight="normal" text-anchor="start" fill="#1a1a1a">2</text>
<line x1="399.20" y1="373.61" x2="401.90" y2="373.61" stroke="#000" stroke-width="0.9"/>
<text x="403.60" y="375.61" font-family='"Liberation Sans", sans-serif' font-size="5.7" font-weight="normal" text-anchor="start" fill="#1a1a1a">4</text>
<line x1="399.20" y1="367.97" x2="401.90" y2="367.97" stroke="#000" stroke-width="0.9"/>
<text x="403.60" y="369.97" font-family='"Liberation Sans", sans-serif' font-size="5.7" font-weight="normal" text-anchor="start" fill="#1a1a1a">6</text>
<line x1="399.20" y1="362.33" x2="401.90" y2="362.33" stroke="#000" stroke-width="0.9"/>
<text x="403.60" y="364.33" font-family='"Liberation Sans", sans-serif' font-size="5.7" font-weight="normal" text-anchor="start" fill="#1a1a1a">8</text>
<line x1="399.20" y1="356.69" x2="401.90" y2="356.69" stroke="#000" stroke-width="0.9"/>
<text x="403.60" y="358.69" font-family='"Liberation Sans", sans-serif' font-size="5.7" font-weight="normal" text-anchor="start" fill="#1a1a1a">10</text>
<line x1="399.20" y1="351.04" x2="401.90" y2="351.04" stroke="#000" stroke-width="0.9"/>
<text x="403.60" y="353.04" font-family='"Liberation Sans", sans-serif' font-size="5.7" font-weight="normal" text-anchor="start" fill="#1a1a1a">12</text>
<line x1="399.20" y1="345.40" x2="401.90" y2="345.40" stroke="#000" stroke-width="0.9"/>
<text x="403.60" y="347.40" font-family='"Liberation Sans", sans-serif' font-size="5.7" font-weight="normal" text-anchor="start" fill="#1a1a1a">14</text>
<text x="372.40" y="396.80" font-family='"Liberation Sans", sans-serif' font-size="5.3" font-weight="normal" text-anchor="middle" fill="#222">Runx</text>
<text x="390.50" y="396.80" font-family='"Liberation Sans", sans-serif' font-size="5.3" font-weight="normal" text-anchor="middle" fill="#222">Ap–1</text>
<rect x="442.30" y="371.50" width="16.20" height="13.40" fill="#ff8c00" stroke="#3a2000" stroke-width="0.9"/>
<rect x="459.40" y="360.80" width="16.00" height="24.10" fill="#92cc48" stroke="#2a3a10" stroke-width="0.9"/>
<line x1="442.00" y1="345.00" x2="442.00" y2="385.40" stroke="#000" stroke-width="1.1"/>
<line x1="475.70" y1="345.00" x2="475.70" y2="385.40" stroke="#000" stroke-width="1.1"/>
<line x1="442.00" y1="384.90" x2="475.70" y2="384.90" stroke="#000" stroke-width="1.3"/>
<line x1="439.00" y1="384.90" x2="442.00" y2="384.90" stroke="#000" stroke-width="0.9"/>
<text x="434.60" y="386.90" font-family='"Liberation Sans", sans-serif' font-size="5.7" font-weight="normal" text-anchor="middle" fill="#1a1a1a">0</text>
<line x1="439.00" y1="377.00" x2="442.00" y2="377.00" stroke="#000" stroke-width="0.9"/>
<text x="434.60" y="379.00" font-family='"Liberation Sans", sans-serif' font-size="5.7" font-weight="normal" text-anchor="middle" fill="#1a1a1a">1</text>
<line x1="439.00" y1="369.10" x2="442.00" y2="369.10" stroke="#000" stroke-width="0.9"/>
<text x="434.60" y="371.10" font-family='"Liberation Sans", sans-serif' font-size="5.7" font-weight="normal" text-anchor="middle" fill="#1a1a1a">2</text>
<line x1="439.00" y1="361.20" x2="442.00" y2="361.20" stroke="#000" stroke-width="0.9"/>
<text x="434.60" y="363.20" font-family='"Liberation Sans", sans-serif' font-size="5.7" font-weight="normal" text-anchor="middle" fill="#1a1a1a">3</text>
<line x1="439.00" y1="353.30" x2="442.00" y2="353.30" stroke="#000" stroke-width="0.9"/>
<text x="434.60" y="355.30" font-family='"Liberation Sans", sans-serif' font-size="5.7" font-weight="normal" text-anchor="middle" fill="#1a1a1a">4</text>
<line x1="439.00" y1="345.40" x2="442.00" y2="345.40" stroke="#000" stroke-width="0.9"/>
<text x="434.60" y="347.40" font-family='"Liberation Sans", sans-serif' font-size="5.7" font-weight="normal" text-anchor="middle" fill="#1a1a1a">5</text>
<line x1="475.70" y1="384.90" x2="478.40" y2="384.90" stroke="#000" stroke-width="0.9"/>
<text x="480.10" y="386.90" font-family='"Liberation Sans", sans-serif' font-size="5.7" font-weight="normal" text-anchor="start" fill="#1a1a1a">0</text>
<line x1="475.70" y1="379.26" x2="478.40" y2="379.26" stroke="#000" stroke-width="0.9"/>
<text x="480.10" y="381.26" font-family='"Liberation Sans", sans-serif' font-size="5.7" font-weight="normal" text-anchor="start" fill="#1a1a1a">2</text>
<line x1="475.70" y1="373.61" x2="478.40" y2="373.61" stroke="#000" stroke-width="0.9"/>
<text x="480.10" y="375.61" font-family='"Liberation Sans", sans-serif' font-size="5.7" font-weight="normal" text-anchor="start" fill="#1a1a1a">4</text>
<line x1="475.70" y1="367.97" x2="478.40" y2="367.97" stroke="#000" stroke-width="0.9"/>
<text x="480.10" y="369.97" font-family='"Liberation Sans", sans-serif' font-size="5.7" font-weight="normal" text-anchor="start" fill="#1a1a1a">6</text>
<line x1="475.70" y1="362.33" x2="478.40" y2="362.33" stroke="#000" stroke-width="0.9"/>
<text x="480.10" y="364.33" font-family='"Liberation Sans", sans-serif' font-size="5.7" font-weight="normal" text-anchor="start" fill="#1a1a1a">8</text>
<line x1="475.70" y1="356.69" x2="478.40" y2="356.69" stroke="#000" stroke-width="0.9"/>
<text x="480.10" y="358.69" font-family='"Liberation Sans", sans-serif' font-size="5.7" font-weight="normal" text-anchor="start" fill="#1a1a1a">10</text>
<line x1="475.70" y1="351.04" x2="478.40" y2="351.04" stroke="#000" stroke-width="0.9"/>
<text x="480.10" y="353.04" font-family='"Liberation Sans", sans-serif' font-size="5.7" font-weight="normal" text-anchor="start" fill="#1a1a1a">12</text>
<line x1="475.70" y1="345.40" x2="478.40" y2="345.40" stroke="#000" stroke-width="0.9"/>
<text x="480.10" y="347.40" font-family='"Liberation Sans", sans-serif' font-size="5.7" font-weight="normal" text-anchor="start" fill="#1a1a1a">14</text>
<text x="448.90" y="396.80" font-family='"Liberation Sans", sans-serif' font-size="5.3" font-weight="normal" text-anchor="middle" fill="#222">Runx</text>
<text x="467.00" y="396.80" font-family='"Liberation Sans", sans-serif' font-size="5.3" font-weight="normal" text-anchor="middle" fill="#222">Ap–1</text>
<text transform="translate(305.60,200.60) scale(1,1.08)" font-family='"Liberation Sans", sans-serif' font-size="9" font-weight="bold" text-anchor="middle" fill="#000" stroke="#000" stroke-width="0.2">No AP–1</text>
<text transform="translate(305.80,210.80) scale(1,1.08)" font-family='"Liberation Sans", sans-serif' font-size="9" font-weight="bold" text-anchor="middle" fill="#000" stroke="#000" stroke-width="0.2">Binding</text>
<text transform="translate(383.00,200.60) scale(1,1.08)" font-family='"Liberation Sans", sans-serif' font-size="9" font-weight="bold" text-anchor="middle" fill="#000" stroke="#000" stroke-width="0.2">Constitutive</text>
<text transform="translate(383.00,210.80) scale(1,1.08)" font-family='"Liberation Sans", sans-serif' font-size="9" font-weight="bold" text-anchor="middle" fill="#000" stroke="#000" stroke-width="0.2">AP–1</text>
<text transform="translate(459.70,200.60) scale(1,1.08)" font-family='"Liberation Sans", sans-serif' font-size="9" font-weight="bold" text-anchor="middle" fill="#000" stroke="#000" stroke-width="0.2">DeNovo</text>
<text transform="translate(459.70,210.80) scale(1,1.08)" font-family='"Liberation Sans", sans-serif' font-size="9" font-weight="bold" text-anchor="middle" fill="#000" stroke="#000" stroke-width="0.2">AP–1</text>
<text transform="translate(222.30,242.00) scale(1,1.08)" font-family='"Liberation Sans", sans-serif' font-size="9" font-weight="bold" text-anchor="start" fill="#000" stroke="#000" stroke-width="0.2">No RUNX1</text>
<text transform="translate(222.30,252.70) scale(1,1.08)" font-family='"Liberation Sans", sans-serif' font-size="9" font-weight="bold" text-anchor="start" fill="#000" stroke="#000" stroke-width="0.2">Binding</text>
<text transform="translate(222.30,302.80) scale(1,1.08)" font-family='"Liberation Sans", sans-serif' font-size="9" font-weight="bold" text-anchor="start" fill="#000" stroke="#000" stroke-width="0.2">Constitutive</text>
<text transform="translate(222.30,313.50) scale(1,1.08)" font-family='"Liberation Sans", sans-serif' font-size="9" font-weight="bold" text-anchor="start" fill="#000" stroke="#000" stroke-width="0.2">RUNX1</text>
<text transform="translate(222.30,364.00) scale(1,1.08)" font-family='"Liberation Sans", sans-serif' font-size="9" font-weight="bold" text-anchor="start" fill="#000" stroke="#000" stroke-width="0.2">DeNovo</text>
<text transform="translate(222.30,374.70) scale(1,1.08)" font-family='"Liberation Sans", sans-serif' font-size="9" font-weight="bold" text-anchor="start" fill="#000" stroke="#000" stroke-width="0.2">RUNX1</text>
<text x="264.40" y="206.20" font-family='"Liberation Sans", sans-serif' font-size="9.6" font-weight="bold" text-anchor="start" fill="#000" stroke="#000" stroke-width="0.2">I</text>
<text x="343.60" y="206.20" font-family='"Liberation Sans", sans-serif' font-size="9.6" font-weight="bold" text-anchor="start" fill="#000" stroke="#000" stroke-width="0.2">II</text>
<text x="424.00" y="206.20" font-family='"Liberation Sans", sans-serif' font-size="9.6" font-weight="bold" text-anchor="start" fill="#000" stroke="#000" stroke-width="0.2">III</text>
<text x="260.90" y="278.20" font-family='"Liberation Sans", sans-serif' font-size="9.6" font-weight="bold" text-anchor="start" fill="#000" stroke="#000" stroke-width="0.2">IV</text>
<text x="344.20" y="278.20" font-family='"Liberation Sans", sans-serif' font-size="9.6" font-weight="bold" text-anchor="start" fill="#000" stroke="#000" stroke-width="0.2">V</text>
<text x="422.80" y="278.20" font-family='"Liberation Sans", sans-serif' font-size="9.6" font-weight="bold" text-anchor="start" fill="#000" stroke="#000" stroke-width="0.2">VI</text>
<text x="259.90" y="342.80" font-family='"Liberation Sans", sans-serif' font-size="9.6" font-weight="bold" text-anchor="start" fill="#000" stroke="#000" stroke-width="0.2">VII</text>
<text x="339.70" y="342.80" font-family='"Liberation Sans", sans-serif' font-size="9.6" font-weight="bold" text-anchor="start" fill="#000" stroke="#000" stroke-width="0.2">VIII</text>
<text x="422.20" y="342.30" font-family='"Liberation Sans", sans-serif' font-size="9.6" font-weight="bold" text-anchor="start" fill="#000" stroke="#000" stroke-width="0.2">IX</text>
<line x1="503.80" y1="222.00" x2="503.80" y2="388.30" stroke="#000" stroke-width="1.1"/>
<path d="M503.8,216.8 L501.4,223.4 L506.2,223.4 Z" fill="#000" stroke="none" stroke-width="1"/>
<text transform="translate(508.90,301.70) rotate(90)" font-family='"Liberation Sans", sans-serif' font-size="9.9" font-weight="bold" text-anchor="middle" fill="#000" stroke="#000" stroke-width="0.2">Fold enrichment</text>
<text transform="translate(71.60,442.40) scale(1,1.08)" font-family='"Liberation Sans", sans-serif' font-size="8.05" font-weight="bold" text-anchor="start" fill="#000" stroke="#000" stroke-width="0.05">Chr 14:74,720,000-74,830,000</text>
<line x1="70.80" y1="443.20" x2="303.00" y2="443.20" stroke="#666" stroke-width="0.9"/>
<line x1="70.80" y1="443.20" x2="70.80" y2="465.30" stroke="#777" stroke-width="0.9"/>
<line x1="303.00" y1="443.20" x2="303.00" y2="465.30" stroke="#777" stroke-width="0.9"/>
<line x1="113.00" y1="443.20" x2="113.00" y2="446.20" stroke="#555" stroke-width="0.8"/>
<line x1="155.00" y1="443.20" x2="155.00" y2="446.20" stroke="#555" stroke-width="0.8"/>
<line x1="197.50" y1="443.20" x2="197.50" y2="446.20" stroke="#555" stroke-width="0.8"/>
<line x1="239.30" y1="443.20" x2="239.30" y2="446.20" stroke="#555" stroke-width="0.8"/>
<line x1="281.30" y1="443.20" x2="281.30" y2="446.20" stroke="#555" stroke-width="0.8"/>
<line x1="70.80" y1="469.00" x2="303.00" y2="469.00" stroke="#666" stroke-width="0.9"/>
<line x1="70.80" y1="469.00" x2="70.80" y2="490.00" stroke="#777" stroke-width="0.9"/>
<line x1="303.00" y1="469.00" x2="303.00" y2="490.00" stroke="#777" stroke-width="0.9"/>
<line x1="113.00" y1="469.00" x2="113.00" y2="472.00" stroke="#555" stroke-width="0.8"/>
<line x1="155.00" y1="469.00" x2="155.00" y2="472.00" stroke="#555" stroke-width="0.8"/>
<line x1="197.50" y1="469.00" x2="197.50" y2="472.00" stroke="#555" stroke-width="0.8"/>
<line x1="239.30" y1="469.00" x2="239.30" y2="472.00" stroke="#555" stroke-width="0.8"/>
<line x1="281.30" y1="469.00" x2="281.30" y2="472.00" stroke="#555" stroke-width="0.8"/>
<path d="M71.30,465.30 L71.30,464.87 L71.80,465.17 L72.30,464.95 L72.80,465.12 L73.30,464.83 L73.80,465.28 L74.30,464.54 L74.80,463.92 L75.30,464.54 L75.80,464.85 L76.30,465.05 L76.80,465.13 L77.30,464.76 L77.80,464.96 L78.30,465.26 L78.80,465.20 L79.30,464.40 L79.80,465.20 L80.30,465.03 L80.80,464.90 L81.30,462.99 L81.80,458.22 L82.30,456.43 L82.80,460.43 L83.30,464.07 L83.80,464.97 L84.30,464.92 L84.80,465.22 L85.30,464.67 L85.80,465.05 L86.30,464.80 L86.80,465.24 L87.30,464.78 L87.80,465.30 L88.30,465.03 L88.80,465.23 L89.30,464.14 L89.80,465.28 L90.30,465.01 L90.80,464.84 L91.30,465.20 L91.80,465.07 L92.30,464.07 L92.80,463.06 L93.30,464.07 L93.80,464.95 L94.30,465.10 L94.80,464.35 L95.30,463.58 L95.80,464.35 L96.30,464.85 L96.80,464.48 L97.30,464.85 L97.80,465.09 L98.30,464.95 L98.80,465.26 L99.30,464.86 L99.80,465.08 L100.30,464.12 L100.80,463.16 L101.30,464.12 L101.80,465.14 L102.30,464.73 L102.80,465.17 L103.30,465.11 L103.80,465.12 L104.30,465.20 L104.80,465.23 L105.30,465.24 L105.80,465.09 L106.30,464.94 L106.80,465.16 L107.30,465.09 L107.80,464.77 L108.30,464.96 L108.80,464.93 L109.30,465.03 L109.80,465.06 L110.30,465.24 L110.80,465.03 L111.30,464.68 L111.80,465.19 L112.30,465.06 L112.80,464.61 L113.30,463.44 L113.80,463.80 L114.30,464.99 L114.80,464.90 L115.30,464.45 L115.80,464.68 L116.30,465.24 L116.80,465.04 L117.30,465.26 L117.80,464.79 L118.30,464.37 L118.80,464.79 L119.30,464.91 L119.80,465.05 L120.30,464.26 L120.80,463.41 L121.30,464.26 L121.80,465.02 L122.30,464.91 L122.80,465.20 L123.30,464.67 L123.80,464.98 L124.30,465.22 L124.80,465.12 L125.30,464.76 L125.80,464.95 L126.30,465.30 L126.80,465.07 L127.30,465.24 L127.80,464.47 L128.30,465.02 L128.80,464.49 L129.30,464.95 L129.80,464.59 L130.30,464.01 L130.80,464.59 L131.30,464.43 L131.80,465.08 L132.30,465.26 L132.80,464.75 L133.30,465.27 L133.80,464.65 L134.30,465.06 L134.80,465.13 L135.30,465.05 L135.80,464.80 L136.30,465.07 L136.80,464.58 L137.30,464.00 L137.80,463.52 L138.30,464.85 L138.80,465.01 L139.30,465.09 L139.80,465.18 L140.30,465.02 L140.80,465.27 L141.30,465.18 L141.80,465.26 L142.30,465.15 L142.80,465.00 L143.30,465.13 L143.80,465.22 L144.30,464.82 L144.80,464.74 L145.30,464.79 L145.80,465.24 L146.30,465.13 L146.80,464.87 L147.30,465.24 L147.80,465.23 L148.30,464.54 L148.80,465.21 L149.30,465.03 L149.80,464.44 L150.30,464.81 L150.80,465.23 L151.30,464.74 L151.80,465.24 L152.30,464.74 L152.80,464.08 L153.30,464.91 L153.80,465.10 L154.30,465.12 L154.80,463.81 L155.30,462.92 L155.80,463.99 L156.30,465.09 L156.80,464.55 L157.30,464.98 L157.80,464.06 L158.30,463.05 L158.80,464.06 L159.30,464.76 L159.80,464.99 L160.30,465.00 L160.80,464.95 L161.30,465.06 L161.80,463.88 L162.30,462.72 L162.80,463.88 L163.30,464.86 L163.80,465.06 L164.30,464.58 L164.80,465.20 L165.30,465.10 L165.80,464.96 L166.30,464.93 L166.80,464.36 L167.30,462.80 L167.80,462.66 L168.30,463.43 L168.80,464.72 L169.30,464.83 L169.80,465.19 L170.30,465.05 L170.80,465.09 L171.30,465.17 L171.80,464.91 L172.30,464.71 L172.80,464.78 L173.30,465.30 L173.80,465.25 L174.30,464.66 L174.80,464.13 L175.30,464.66 L175.80,465.10 L176.30,464.87 L176.80,465.01 L177.30,464.61 L177.80,465.04 L178.30,465.06 L178.80,464.84 L179.30,465.18 L179.80,464.95 L180.30,465.03 L180.80,464.57 L181.30,464.10 L181.80,463.12 L182.30,464.10 L182.80,465.15 L183.30,465.03 L183.80,464.99 L184.30,464.95 L184.80,464.72 L185.30,465.09 L185.80,464.47 L186.30,465.26 L186.80,465.09 L187.30,465.03 L187.80,465.21 L188.30,465.22 L188.80,464.95 L189.30,465.01 L189.80,465.01 L190.30,465.03 L190.80,464.69 L191.30,464.92 L191.80,465.26 L192.30,465.22 L192.80,465.26 L193.30,465.23 L193.80,465.23 L194.30,465.18 L194.80,464.86 L195.30,465.08 L195.80,464.72 L196.30,465.11 L196.80,465.28 L197.30,465.22 L197.80,465.28 L198.30,465.18 L198.80,465.07 L199.30,465.23 L199.80,464.28 L200.30,463.45 L200.80,464.28 L201.30,464.95 L201.80,464.93 L202.30,464.99 L202.80,464.47 L203.30,465.21 L203.80,465.09 L204.30,465.08 L204.80,465.27 L205.30,464.91 L205.80,465.27 L206.30,465.25 L206.80,465.09 L207.30,465.25 L207.80,464.98 L208.30,465.06 L208.80,464.90 L209.30,463.83 L209.80,459.27 L210.30,460.23 L210.80,464.38 L211.30,465.18 L211.80,465.22 L212.30,464.79 L212.80,465.07 L213.30,465.04 L213.80,465.02 L214.30,464.76 L214.80,464.76 L215.30,464.98 L215.80,464.98 L216.30,464.27 L216.80,463.42 L217.30,464.27 L217.80,465.17 L218.30,465.16 L218.80,465.11 L219.30,465.19 L219.80,464.66 L220.30,464.95 L220.80,464.87 L221.30,465.13 L221.80,464.57 L222.30,464.34 L222.80,465.18 L223.30,464.70 L223.80,465.16 L224.30,464.97 L224.80,464.61 L225.30,465.10 L225.80,465.04 L226.30,464.97 L226.80,465.11 L227.30,464.73 L227.80,465.11 L228.30,465.16 L228.80,465.14 L229.30,465.25 L229.80,465.17 L230.30,464.62 L230.80,462.96 L231.30,461.71 L231.80,462.99 L232.30,462.81 L232.80,463.93 L233.30,464.74 L233.80,464.97 L234.30,465.01 L234.80,464.85 L235.30,464.92 L235.80,465.16 L236.30,465.16 L236.80,465.25 L237.30,465.22 L237.80,464.88 L238.30,465.16 L238.80,464.75 L239.30,465.03 L239.80,464.97 L240.30,465.05 L240.80,464.93 L241.30,464.56 L241.80,463.96 L242.30,464.56 L242.80,464.68 L243.30,465.12 L243.80,464.64 L244.30,464.88 L244.80,465.22 L245.30,465.09 L245.80,465.20 L246.30,464.90 L246.80,465.21 L247.30,465.23 L247.80,465.25 L248.30,464.49 L248.80,463.83 L249.30,464.49 L249.80,464.93 L250.30,464.92 L250.80,463.99 L251.30,462.92 L251.80,463.99 L252.30,464.95 L252.80,465.21 L253.30,464.54 L253.80,465.09 L254.30,465.25 L254.80,464.91 L255.30,465.04 L255.80,465.03 L256.30,465.00 L256.80,464.61 L257.30,465.00 L257.80,465.26 L258.30,464.95 L258.80,464.85 L259.30,465.14 L259.80,464.49 L260.30,463.83 L260.80,464.49 L261.30,464.88 L261.80,465.06 L262.30,464.97 L262.80,465.02 L263.30,465.00 L263.80,464.92 L264.30,464.85 L264.80,464.90 L265.30,464.63 L265.80,464.26 L266.30,463.72 L266.80,462.94 L267.30,462.40 L267.80,461.77 L268.30,461.35 L268.80,461.28 L269.30,461.45 L269.80,462.13 L270.30,462.69 L270.80,463.42 L271.30,463.93 L271.80,464.26 L272.30,464.81 L272.80,464.91 L273.30,464.95 L273.80,465.10 L274.30,465.14 L274.80,464.66 L275.30,465.05 L275.80,465.12 L276.30,464.99 L276.80,464.57 L277.30,465.05 L277.80,464.07 L278.30,465.16 L278.80,465.18 L279.30,465.26 L279.80,464.74 L280.30,465.29 L280.80,465.14 L281.30,465.12 L281.80,464.98 L282.30,465.25 L282.80,465.12 L283.30,464.86 L283.80,464.99 L284.30,465.07 L284.80,465.27 L285.30,464.98 L285.80,464.60 L286.30,465.13 L286.80,465.27 L287.30,464.71 L287.80,465.28 L288.30,464.77 L288.80,465.29 L289.30,465.25 L289.80,465.18 L290.30,465.22 L290.80,465.24 L291.30,464.90 L291.80,465.17 L292.30,465.12 L292.80,465.22 L293.30,465.21 L293.80,465.08 L294.30,464.73 L294.80,464.40 L295.30,465.16 L295.80,465.23 L296.30,464.50 L296.80,464.97 L297.30,464.72 L297.80,465.16 L298.30,465.12 L298.80,464.95 L299.30,464.93 L299.80,465.26 L300.30,465.25 L300.80,465.27 L301.30,465.10 L301.80,464.24 L302.30,463.38 L302.50,465.30 Z" fill="#5fdc5f" stroke="#2fa02f" stroke-width="0.35"/>
<line x1="70.80" y1="465.30" x2="303.00" y2="465.30" stroke="#1f7a1f" stroke-width="1.0"/>
<path d="M71.30,490.00 L71.30,489.42 L71.80,489.91 L72.30,489.89 L72.80,489.81 L73.30,489.61 L73.80,489.97 L74.30,489.89 L74.80,489.28 L75.30,488.91 L75.80,488.01 L76.30,488.91 L76.80,489.23 L77.30,488.60 L77.80,489.23 L78.30,489.54 L78.80,489.26 L79.30,489.31 L79.80,489.61 L80.30,489.46 L80.80,489.25 L81.30,485.68 L81.80,476.42 L82.30,477.80 L82.80,487.12 L83.30,489.18 L83.80,489.67 L84.30,489.75 L84.80,489.99 L85.30,489.03 L85.80,489.92 L86.30,489.68 L86.80,489.73 L87.30,489.77 L87.80,489.74 L88.30,489.83 L88.80,489.83 L89.30,489.04 L89.80,488.25 L90.30,489.02 L90.80,488.22 L91.30,489.02 L91.80,489.76 L92.30,489.63 L92.80,489.74 L93.30,489.93 L93.80,489.93 L94.30,489.84 L94.80,488.96 L95.30,489.42 L95.80,489.91 L96.30,489.76 L96.80,489.70 L97.30,489.78 L97.80,489.44 L98.30,489.58 L98.80,489.10 L99.30,487.34 L99.80,487.62 L100.30,487.44 L100.80,488.59 L101.30,489.27 L101.80,489.48 L102.30,488.74 L102.80,487.71 L103.30,488.74 L103.80,489.58 L104.30,489.47 L104.80,489.56 L105.30,489.60 L105.80,489.70 L106.30,489.73 L106.80,489.44 L107.30,489.08 L107.80,489.50 L108.30,489.68 L108.80,489.43 L109.30,488.96 L109.80,489.43 L110.30,489.92 L110.80,489.69 L111.30,489.00 L111.80,489.85 L112.30,489.01 L112.80,489.39 L113.30,486.60 L113.80,487.15 L114.30,489.32 L114.80,489.58 L115.30,489.86 L115.80,489.02 L116.30,488.21 L116.80,489.02 L117.30,486.13 L117.80,484.86 L118.30,489.35 L118.80,489.74 L119.30,489.46 L119.80,489.86 L120.30,488.57 L120.80,489.85 L121.30,489.91 L121.80,490.00 L122.30,489.69 L122.80,489.37 L123.30,489.72 L123.80,489.50 L124.30,489.94 L124.80,489.51 L125.30,489.44 L125.80,489.92 L126.30,489.92 L126.80,489.03 L127.30,489.81 L127.80,488.74 L128.30,487.70 L128.80,488.74 L129.30,489.83 L129.80,489.06 L130.30,489.39 L130.80,489.94 L131.30,489.92 L131.80,489.73 L132.30,489.89 L132.80,489.38 L133.30,488.61 L133.80,486.14 L134.30,488.56 L134.80,488.82 L135.30,487.85 L135.80,488.82 L136.30,488.98 L136.80,489.56 L137.30,489.48 L137.80,489.79 L138.30,489.10 L138.80,489.51 L139.30,489.97 L139.80,489.58 L140.30,489.27 L140.80,489.55 L141.30,489.87 L141.80,489.49 L142.30,489.78 L142.80,489.11 L143.30,488.38 L143.80,489.11 L144.30,489.37 L144.80,489.93 L145.30,489.41 L145.80,489.59 L146.30,489.30 L146.80,489.47 L147.30,489.31 L147.80,489.54 L148.30,489.16 L148.80,489.54 L149.30,489.79 L149.80,489.72 L150.30,489.34 L150.80,488.80 L151.30,489.34 L151.80,487.51 L152.30,483.50 L152.80,488.98 L153.30,489.66 L153.80,489.62 L154.30,489.64 L154.80,489.59 L155.30,487.33 L155.80,483.57 L156.30,489.24 L156.80,489.33 L157.30,489.76 L157.80,489.43 L158.30,489.96 L158.80,489.41 L159.30,489.48 L159.80,489.05 L160.30,489.48 L160.80,489.91 L161.30,489.76 L161.80,489.91 L162.30,489.82 L162.80,489.68 L163.30,489.97 L163.80,488.87 L164.30,487.95 L164.80,488.87 L165.30,489.79 L165.80,489.75 L166.30,489.70 L166.80,489.59 L167.30,489.83 L167.80,489.12 L168.30,488.01 L168.80,486.37 L169.30,487.13 L169.80,488.98 L170.30,489.40 L170.80,489.52 L171.30,489.85 L171.80,489.56 L172.30,489.54 L172.80,489.02 L173.30,488.22 L173.80,489.02 L174.30,489.97 L174.80,489.28 L175.30,488.70 L175.80,489.28 L176.30,489.50 L176.80,488.67 L177.30,487.58 L177.80,486.71 L178.30,486.75 L178.80,489.37 L179.30,489.62 L179.80,489.72 L180.30,489.81 L180.80,489.80 L181.30,489.92 L181.80,489.50 L182.30,490.00 L182.80,489.88 L183.30,489.89 L183.80,489.69 L184.30,489.50 L184.80,489.79 L185.30,489.38 L185.80,489.48 L186.30,489.72 L186.80,489.79 L187.30,488.87 L187.80,487.94 L188.30,488.87 L188.80,489.54 L189.30,489.91 L189.80,489.60 L190.30,489.77 L190.80,489.79 L191.30,489.67 L191.80,489.78 L192.30,489.70 L192.80,489.73 L193.30,489.91 L193.80,489.77 L194.30,489.91 L194.80,489.71 L195.30,489.52 L195.80,489.91 L196.30,489.28 L196.80,489.18 L197.30,488.51 L197.80,489.18 L198.30,489.59 L198.80,489.49 L199.30,489.03 L199.80,488.24 L200.30,489.03 L200.80,489.43 L201.30,489.80 L201.80,489.20 L202.30,488.82 L202.80,487.86 L203.30,488.82 L203.80,489.98 L204.30,489.11 L204.80,488.38 L205.30,489.05 L205.80,489.48 L206.30,489.86 L206.80,489.68 L207.30,489.65 L207.80,489.58 L208.30,489.51 L208.80,489.64 L209.30,489.33 L209.80,484.24 L210.30,485.63 L210.80,489.74 L211.30,489.61 L211.80,489.55 L212.30,489.70 L212.80,489.66 L213.30,489.74 L213.80,489.70 L214.30,489.59 L214.80,489.75 L215.30,489.93 L215.80,489.68 L216.30,489.59 L216.80,489.79 L217.30,489.62 L217.80,489.52 L218.30,489.42 L218.80,489.84 L219.30,489.63 L219.80,489.82 L220.30,489.48 L220.80,489.58 L221.30,489.89 L221.80,489.82 L222.30,489.82 L222.80,489.93 L223.30,489.88 L223.80,489.93 L224.30,489.70 L224.80,489.98 L225.30,489.54 L225.80,489.60 L226.30,489.22 L226.80,489.31 L227.30,489.36 L227.80,489.84 L228.30,489.69 L228.80,489.83 L229.30,489.70 L229.80,489.10 L230.30,488.25 L230.80,487.26 L231.30,486.87 L231.80,487.78 L232.30,488.53 L232.80,489.25 L233.30,489.64 L233.80,489.83 L234.30,489.23 L234.80,489.39 L235.30,489.32 L235.80,489.10 L236.30,489.50 L236.80,489.85 L237.30,489.73 L237.80,489.13 L238.30,489.52 L238.80,489.65 L239.30,489.71 L239.80,489.98 L240.30,489.36 L240.80,489.93 L241.30,489.69 L241.80,489.40 L242.30,489.79 L242.80,489.67 L243.30,489.22 L243.80,489.08 L244.30,488.89 L244.80,487.98 L245.30,488.89 L245.80,489.65 L246.30,489.81 L246.80,489.78 L247.30,489.59 L247.80,489.64 L248.30,489.65 L248.80,489.64 L249.30,489.37 L249.80,489.80 L250.30,489.99 L250.80,489.58 L251.30,489.48 L251.80,489.61 L252.30,489.83 L252.80,489.82 L253.30,489.49 L253.80,489.84 L254.30,489.65 L254.80,489.82 L255.30,489.86 L255.80,489.65 L256.30,489.64 L256.80,489.99 L257.30,489.56 L257.80,489.99 L258.30,489.81 L258.80,489.64 L259.30,489.90 L259.80,489.66 L260.30,489.75 L260.80,489.72 L261.30,489.69 L261.80,489.87 L262.30,489.42 L262.80,489.39 L263.30,485.05 L263.80,471.64 L264.30,485.26 L264.80,489.86 L265.30,489.89 L265.80,489.84 L266.30,489.92 L266.80,489.27 L267.30,489.38 L267.80,486.11 L268.30,486.49 L268.80,489.53 L269.30,489.61 L269.80,489.25 L270.30,489.87 L270.80,489.74 L271.30,486.33 L271.80,475.75 L272.30,485.99 L272.80,487.68 L273.30,488.73 L273.80,489.89 L274.30,489.63 L274.80,489.85 L275.30,489.63 L275.80,489.92 L276.30,489.85 L276.80,489.35 L277.30,489.97 L277.80,489.51 L278.30,489.91 L278.80,489.53 L279.30,489.29 L279.80,487.27 L280.30,487.89 L280.80,489.61 L281.30,489.85 L281.80,489.92 L282.30,489.45 L282.80,489.55 L283.30,489.19 L283.80,489.33 L284.30,489.81 L284.80,489.87 L285.30,489.78 L285.80,489.16 L286.30,488.48 L286.80,489.16 L287.30,489.06 L287.80,488.29 L288.30,489.06 L288.80,489.67 L289.30,489.18 L289.80,488.52 L290.30,488.69 L290.80,489.22 L291.30,489.64 L291.80,489.68 L292.30,489.25 L292.80,489.45 L293.30,489.28 L293.80,488.68 L294.30,489.28 L294.80,489.33 L295.30,489.55 L295.80,489.80 L296.30,489.83 L296.80,489.81 L297.30,489.42 L297.80,489.64 L298.30,489.33 L298.80,489.77 L299.30,489.97 L299.80,488.81 L300.30,487.84 L300.80,487.65 L301.30,488.71 L301.80,489.83 L302.30,489.60 L302.50,490.00 Z" fill="#1c1c9c" stroke="#0c0c6a" stroke-width="0.35"/>
<line x1="70.80" y1="490.00" x2="303.00" y2="490.00" stroke="#10105a" stroke-width="1.0"/>
<text transform="translate(68.40,457.90) scale(1,1.08)" font-family='"Liberation Sans", sans-serif' font-size="8.85" font-weight="bold" text-anchor="end" fill="#7d1d24" stroke="#7d1d24" stroke-width="0.2">K562</text>
<text transform="translate(68.10,480.00) scale(1,1.08)" font-family='"Liberation Sans", sans-serif' font-size="8.9" font-weight="bold" text-anchor="end" fill="#7d1d24" stroke="#7d1d24" stroke-width="0.2">K562-TPA</text>
<line x1="239.30" y1="445.80" x2="281.60" y2="445.80" stroke="#000" stroke-width="1.0"/>
<line x1="239.30" y1="444.30" x2="239.30" y2="448.80" stroke="#000" stroke-width="1.0"/>
<line x1="281.60" y1="444.30" x2="281.60" y2="448.80" stroke="#000" stroke-width="1.0"/>
<text transform="translate(261.30,455.20) scale(1,1.08)" font-family='"Liberation Sans", sans-serif' font-size="7.9" font-weight="bold" text-anchor="middle" fill="#000" stroke="#000" stroke-width="0.2">20kb</text>
<text transform="translate(252.90,500.10) scale(1,1.08)" font-family='"Liberation Sans", sans-serif' font-size="8.1" font-weight="bold" text-anchor="start" fill="#000" stroke="#000" stroke-width="0.2">FOS</text>
<rect x="271.20" y="496.40" width="3.00" height="2.60" fill="#555" stroke="none" stroke-width="1"/>
<path d="M274.0,494.9 L276.5,494.9 A3.0,2.8 0 0 1 276.5,500.5 L274.0,500.5 Z" fill="#000" stroke="none" stroke-width="1"/>
<line x1="274.20" y1="497.70" x2="276.20" y2="497.70" stroke="#aaa" stroke-width="0.6"/>
<text transform="translate(71.60,516.40) scale(1,1.08)" font-family='"Liberation Sans", sans-serif' font-size="8.05" font-weight="bold" text-anchor="start" fill="#000" stroke="#000" stroke-width="0.05">Chr 19:50,632,000-50,673,000</text>
<line x1="70.80" y1="517.40" x2="303.00" y2="517.40" stroke="#666" stroke-width="0.9"/>
<line x1="70.80" y1="517.40" x2="70.80" y2="539.10" stroke="#777" stroke-width="0.9"/>
<line x1="303.00" y1="517.40" x2="303.00" y2="539.10" stroke="#777" stroke-width="0.9"/>
<line x1="116.50" y1="517.40" x2="116.50" y2="520.40" stroke="#555" stroke-width="0.8"/>
<line x1="229.50" y1="517.40" x2="229.50" y2="520.40" stroke="#555" stroke-width="0.8"/>
<line x1="70.80" y1="542.40" x2="303.00" y2="542.40" stroke="#666" stroke-width="0.9"/>
<line x1="70.80" y1="542.40" x2="70.80" y2="564.30" stroke="#777" stroke-width="0.9"/>
<line x1="303.00" y1="542.40" x2="303.00" y2="564.30" stroke="#777" stroke-width="0.9"/>
<line x1="116.50" y1="542.40" x2="116.50" y2="545.40" stroke="#555" stroke-width="0.8"/>
<line x1="229.50" y1="542.40" x2="229.50" y2="545.40" stroke="#555" stroke-width="0.8"/>
<path d="M71.30,539.10 L71.30,538.83 L71.80,538.64 L72.30,538.84 L72.80,538.80 L73.30,538.97 L73.80,538.49 L74.30,538.95 L74.80,538.71 L75.30,538.84 L75.80,539.09 L76.30,538.76 L76.80,539.09 L77.30,538.99 L77.80,539.03 L78.30,539.03 L78.80,537.98 L79.30,537.06 L79.80,537.98 L80.30,538.53 L80.80,539.09 L81.30,538.76 L81.80,538.76 L82.30,538.79 L82.80,539.03 L83.30,538.93 L83.80,539.10 L84.30,538.78 L84.80,539.00 L85.30,538.74 L85.80,538.54 L86.30,538.08 L86.80,538.19 L87.30,537.35 L87.80,538.69 L88.30,538.58 L88.80,538.76 L89.30,538.95 L89.80,537.77 L90.30,537.58 L90.80,538.74 L91.30,538.88 L91.80,538.86 L92.30,538.37 L92.80,538.96 L93.30,539.08 L93.80,538.51 L94.30,538.61 L94.80,538.82 L95.30,538.81 L95.80,538.19 L96.30,536.37 L96.80,538.04 L97.30,538.45 L97.80,538.76 L98.30,538.82 L98.80,538.92 L99.30,538.77 L99.80,539.00 L100.30,538.75 L100.80,539.09 L101.30,538.95 L101.80,539.07 L102.30,538.88 L102.80,538.02 L103.30,538.69 L103.80,538.95 L104.30,538.55 L104.80,537.96 L105.30,534.52 L105.80,535.30 L106.30,538.13 L106.80,538.93 L107.30,539.01 L107.80,538.90 L108.30,538.64 L108.80,538.45 L109.30,538.68 L109.80,536.85 L110.30,537.38 L110.80,538.83 L111.30,538.51 L111.80,538.84 L112.30,538.86 L112.80,538.20 L113.30,534.61 L113.80,532.09 L114.30,536.54 L114.80,538.58 L115.30,538.22 L115.80,538.52 L116.30,537.25 L116.80,537.87 L117.30,538.61 L117.80,538.83 L118.30,538.91 L118.80,538.91 L119.30,538.95 L119.80,537.83 L120.30,536.78 L120.80,537.83 L121.30,539.04 L121.80,538.70 L122.30,539.04 L122.80,539.00 L123.30,539.09 L123.80,538.81 L124.30,538.91 L124.80,539.00 L125.30,538.81 L125.80,538.97 L126.30,538.15 L126.80,537.37 L127.30,538.15 L127.80,538.23 L128.30,537.51 L128.80,538.22 L129.30,538.54 L129.80,539.01 L130.30,538.64 L130.80,538.26 L131.30,538.64 L131.80,538.57 L132.30,538.75 L132.80,538.78 L133.30,538.69 L133.80,538.89 L134.30,538.92 L134.80,538.86 L135.30,538.83 L135.80,539.04 L136.30,539.09 L136.80,539.05 L137.30,538.76 L137.80,538.30 L138.30,538.56 L138.80,538.11 L139.30,538.56 L139.80,538.56 L140.30,538.87 L140.80,538.96 L141.30,538.37 L141.80,538.61 L142.30,538.94 L142.80,539.00 L143.30,538.60 L143.80,538.20 L144.30,538.60 L144.80,539.04 L145.30,538.65 L145.80,538.56 L146.30,539.00 L146.80,538.95 L147.30,538.80 L147.80,538.89 L148.30,538.85 L148.80,538.31 L149.30,537.56 L149.80,538.76 L150.30,538.70 L150.80,538.72 L151.30,539.00 L151.80,539.07 L152.30,538.93 L152.80,538.41 L153.30,538.89 L153.80,538.36 L154.30,537.24 L154.80,538.20 L155.30,538.55 L155.80,538.87 L156.30,537.75 L156.80,536.64 L157.30,537.75 L157.80,538.56 L158.30,539.06 L158.80,539.01 L159.30,538.87 L159.80,538.91 L160.30,538.86 L160.80,538.93 L161.30,538.66 L161.80,539.09 L162.30,538.95 L162.80,539.05 L163.30,538.76 L163.80,538.85 L164.30,538.52 L164.80,538.04 L165.30,538.52 L165.80,538.60 L166.30,538.66 L166.80,539.03 L167.30,538.51 L167.80,538.85 L168.30,538.78 L168.80,539.05 L169.30,538.64 L169.80,538.09 L170.30,538.99 L170.80,539.01 L171.30,538.52 L171.80,538.81 L172.30,539.08 L172.80,538.72 L173.30,537.91 L173.80,536.94 L174.30,537.91 L174.80,538.80 L175.30,538.75 L175.80,539.06 L176.30,538.90 L176.80,538.95 L177.30,538.74 L177.80,538.99 L178.30,539.09 L178.80,538.55 L179.30,538.87 L179.80,538.59 L180.30,538.85 L180.80,539.03 L181.30,538.80 L181.80,538.83 L182.30,538.49 L182.80,538.44 L183.30,538.76 L183.80,538.90 L184.30,538.54 L184.80,539.07 L185.30,538.63 L185.80,538.71 L186.30,538.69 L186.80,538.68 L187.30,538.76 L187.80,538.50 L188.30,538.75 L188.80,538.60 L189.30,538.35 L189.80,537.56 L190.30,538.24 L190.80,538.78 L191.30,538.69 L191.80,538.30 L192.30,539.06 L192.80,539.10 L193.30,538.98 L193.80,538.82 L194.30,538.95 L194.80,538.98 L195.30,538.96 L195.80,538.84 L196.30,538.57 L196.80,537.52 L197.30,538.48 L197.80,538.71 L198.30,538.42 L198.80,538.13 L199.30,537.33 L199.80,538.13 L200.30,538.84 L200.80,538.67 L201.30,538.64 L201.80,538.26 L202.30,538.64 L202.80,539.01 L203.30,539.08 L203.80,538.42 L204.30,538.30 L204.80,537.64 L205.30,538.30 L205.80,538.65 L206.30,539.04 L206.80,538.76 L207.30,538.73 L207.80,538.96 L208.30,538.65 L208.80,538.91 L209.30,539.06 L209.80,538.89 L210.30,538.89 L210.80,538.29 L211.30,537.63 L211.80,538.27 L212.30,538.48 L212.80,538.96 L213.30,538.60 L213.80,538.88 L214.30,538.69 L214.80,539.05 L215.30,538.64 L215.80,538.98 L216.30,539.02 L216.80,538.85 L217.30,538.66 L217.80,539.08 L218.30,538.85 L218.80,538.93 L219.30,538.39 L219.80,538.89 L220.30,538.97 L220.80,537.77 L221.30,536.68 L221.80,537.77 L222.30,538.99 L222.80,539.08 L223.30,538.96 L223.80,538.77 L224.30,538.86 L224.80,539.02 L225.30,538.88 L225.80,538.46 L226.30,538.45 L226.80,538.77 L227.30,538.64 L227.80,539.05 L228.30,538.37 L228.80,537.77 L229.30,538.37 L229.80,538.51 L230.30,539.05 L230.80,538.99 L231.30,538.91 L231.80,538.66 L232.30,538.81 L232.80,538.53 L233.30,538.02 L233.80,537.13 L234.30,538.02 L234.80,538.78 L235.30,537.77 L235.80,536.68 L236.30,537.77 L236.80,539.01 L237.30,538.72 L237.80,538.74 L238.30,539.00 L238.80,538.76 L239.30,538.33 L239.80,537.77 L240.30,537.76 L240.80,538.81 L241.30,538.89 L241.80,538.64 L242.30,538.67 L242.80,538.96 L243.30,538.71 L243.80,538.92 L244.30,538.65 L244.80,538.81 L245.30,539.04 L245.80,538.68 L246.30,538.52 L246.80,538.79 L247.30,539.08 L247.80,539.00 L248.30,538.84 L248.80,537.84 L249.30,536.82 L249.80,537.84 L250.30,539.00 L250.80,538.22 L251.30,537.50 L251.80,538.22 L252.30,538.83 L252.80,538.39 L253.30,538.17 L253.80,537.41 L254.30,538.17 L254.80,537.35 L255.30,537.38 L255.80,538.15 L256.30,538.43 L256.80,537.88 L257.30,538.33 L257.80,538.81 L258.30,539.09 L258.80,539.05 L259.30,538.81 L259.80,538.71 L260.30,538.64 L260.80,538.73 L261.30,538.97 L261.80,538.93 L262.30,538.71 L262.80,537.84 L263.30,536.80 L263.80,537.84 L264.30,538.65 L264.80,538.61 L265.30,538.31 L265.80,537.63 L266.30,537.49 L266.80,538.33 L267.30,538.79 L267.80,538.92 L268.30,538.91 L268.80,538.71 L269.30,538.97 L269.80,538.80 L270.30,539.04 L270.80,539.04 L271.30,538.69 L271.80,538.89 L272.30,538.59 L272.80,539.01 L273.30,539.06 L273.80,538.94 L274.30,538.64 L274.80,537.84 L275.30,537.94 L275.80,538.81 L276.30,538.91 L276.80,538.85 L277.30,538.65 L277.80,538.87 L278.30,539.02 L278.80,538.52 L279.30,538.94 L279.80,538.88 L280.30,538.79 L280.80,538.96 L281.30,538.83 L281.80,539.08 L282.30,538.72 L282.80,539.01 L283.30,538.46 L283.80,538.96 L284.30,538.56 L284.80,538.77 L285.30,539.05 L285.80,538.53 L286.30,538.44 L286.80,537.90 L287.30,538.44 L287.80,539.08 L288.30,538.86 L288.80,538.70 L289.30,538.02 L289.80,538.54 L290.30,539.02 L290.80,538.86 L291.30,539.04 L291.80,538.46 L292.30,538.98 L292.80,539.09 L293.30,538.65 L293.80,538.62 L294.30,538.71 L294.80,539.10 L295.30,538.72 L295.80,538.06 L296.30,537.22 L296.80,538.06 L297.30,538.71 L297.80,538.66 L298.30,538.91 L298.80,538.91 L299.30,538.98 L299.80,538.49 L300.30,538.89 L300.80,539.00 L301.30,538.68 L301.80,538.50 L302.30,538.83 L302.50,539.10 Z" fill="#5fdc5f" stroke="#2fa02f" stroke-width="0.35"/>
<line x1="70.80" y1="539.10" x2="303.00" y2="539.10" stroke="#1f7a1f" stroke-width="1.0"/>
<path d="M71.30,564.30 L71.30,564.06 L71.80,564.24 L72.30,562.68 L72.80,564.06 L73.30,564.21 L73.80,564.09 L74.30,564.06 L74.80,563.96 L75.30,564.05 L75.80,564.09 L76.30,563.92 L76.80,563.83 L77.30,563.45 L77.80,563.68 L78.30,563.90 L78.80,563.36 L79.30,564.26 L79.80,564.16 L80.30,563.86 L80.80,563.89 L81.30,563.83 L81.80,563.54 L82.30,562.93 L82.80,563.54 L83.30,563.58 L83.80,562.40 L84.30,560.91 L84.80,561.99 L85.30,562.42 L85.80,562.00 L86.30,559.94 L86.80,557.11 L87.30,556.18 L87.80,556.73 L88.30,559.94 L88.80,555.06 L89.30,553.91 L89.80,557.16 L90.30,561.44 L90.80,559.93 L91.30,558.24 L91.80,559.95 L92.30,562.04 L92.80,563.40 L93.30,563.76 L93.80,563.98 L94.30,563.74 L94.80,562.55 L95.30,558.57 L95.80,553.86 L96.30,556.67 L96.80,561.28 L97.30,563.46 L97.80,563.72 L98.30,563.84 L98.80,563.99 L99.30,562.92 L99.80,561.79 L100.30,562.92 L100.80,563.50 L101.30,563.47 L101.80,562.99 L102.30,561.45 L102.80,559.97 L103.30,559.26 L103.80,559.80 L104.30,561.52 L104.80,563.02 L105.30,563.86 L105.80,564.03 L106.30,563.90 L106.80,563.91 L107.30,563.82 L107.80,563.86 L108.30,562.13 L108.80,558.58 L109.30,555.91 L109.80,558.54 L110.30,562.18 L110.80,561.25 L111.30,559.57 L111.80,561.34 L112.30,561.66 L112.80,558.44 L113.30,557.20 L113.80,559.82 L114.30,562.67 L114.80,563.87 L115.30,563.54 L115.80,562.92 L116.30,563.54 L116.80,563.88 L117.30,563.59 L117.80,563.96 L118.30,563.88 L118.80,563.97 L119.30,563.86 L119.80,562.75 L120.30,561.85 L120.80,562.26 L121.30,563.58 L121.80,563.66 L122.30,564.03 L122.80,563.96 L123.30,563.97 L123.80,563.69 L124.30,562.59 L124.80,560.75 L125.30,560.34 L125.80,561.18 L126.30,563.22 L126.80,563.97 L127.30,563.99 L127.80,563.96 L128.30,564.05 L128.80,564.09 L129.30,564.27 L129.80,564.10 L130.30,564.00 L130.80,564.24 L131.30,563.89 L131.80,563.69 L132.30,563.54 L132.80,563.91 L133.30,563.87 L133.80,564.20 L134.30,564.23 L134.80,564.21 L135.30,564.15 L135.80,563.80 L136.30,563.75 L136.80,563.80 L137.30,563.76 L137.80,563.81 L138.30,564.26 L138.80,563.03 L139.30,562.00 L139.80,563.03 L140.30,561.57 L140.80,561.47 L141.30,562.61 L141.80,563.88 L142.30,563.13 L142.80,562.17 L143.30,563.13 L143.80,564.22 L144.30,564.19 L144.80,564.29 L145.30,564.30 L145.80,564.26 L146.30,563.42 L146.80,563.33 L147.30,564.11 L147.80,564.03 L148.30,564.06 L148.80,564.25 L149.30,563.81 L149.80,563.55 L150.30,564.08 L150.80,564.16 L151.30,563.83 L151.80,563.36 L152.30,562.77 L152.80,561.37 L153.30,560.08 L153.80,560.33 L154.30,561.61 L154.80,563.23 L155.30,564.01 L155.80,563.70 L156.30,564.24 L156.80,564.04 L157.30,564.02 L157.80,563.84 L158.30,564.03 L158.80,563.52 L159.30,564.01 L159.80,564.25 L160.30,563.54 L160.80,563.79 L161.30,564.27 L161.80,563.86 L162.30,564.13 L162.80,564.05 L163.30,564.22 L163.80,564.18 L164.30,564.06 L164.80,564.07 L165.30,563.12 L165.80,564.17 L166.30,563.97 L166.80,563.83 L167.30,563.90 L167.80,563.84 L168.30,563.54 L168.80,563.54 L169.30,562.91 L169.80,563.31 L170.30,563.65 L170.80,563.12 L171.30,563.65 L171.80,564.12 L172.30,564.04 L172.80,564.19 L173.30,563.24 L173.80,564.27 L174.30,563.91 L174.80,564.05 L175.30,563.77 L175.80,563.79 L176.30,563.71 L176.80,563.26 L177.30,563.62 L177.80,562.56 L178.30,559.39 L178.80,553.96 L179.30,547.30 L179.80,544.39 L180.30,547.30 L180.80,553.79 L181.30,559.36 L181.80,562.79 L182.30,563.90 L182.80,563.97 L183.30,563.75 L183.80,564.11 L184.30,563.92 L184.80,564.16 L185.30,564.07 L185.80,563.84 L186.30,563.94 L186.80,564.09 L187.30,564.15 L187.80,563.94 L188.30,563.41 L188.80,564.06 L189.30,563.88 L189.80,564.19 L190.30,563.23 L190.80,564.02 L191.30,563.99 L191.80,564.27 L192.30,564.07 L192.80,564.06 L193.30,564.21 L193.80,564.07 L194.30,562.92 L194.80,563.86 L195.30,564.21 L195.80,564.10 L196.30,563.50 L196.80,564.20 L197.30,564.13 L197.80,564.30 L198.30,564.06 L198.80,563.76 L199.30,563.32 L199.80,562.84 L200.30,563.50 L200.80,564.14 L201.30,563.65 L201.80,564.09 L202.30,563.10 L202.80,562.12 L203.30,563.10 L203.80,564.02 L204.30,564.11 L204.80,564.29 L205.30,564.02 L205.80,563.89 L206.30,564.24 L206.80,563.99 L207.30,563.67 L207.80,564.19 L208.30,564.24 L208.80,563.42 L209.30,562.70 L209.80,563.42 L210.30,564.19 L210.80,563.99 L211.30,563.91 L211.80,563.33 L212.30,564.06 L212.80,563.91 L213.30,564.04 L213.80,564.20 L214.30,563.47 L214.80,563.74 L215.30,563.51 L215.80,564.01 L216.30,564.23 L216.80,563.40 L217.30,564.23 L217.80,563.99 L218.30,563.63 L218.80,564.17 L219.30,563.75 L219.80,564.03 L220.30,564.26 L220.80,563.73 L221.30,563.81 L221.80,563.66 L222.30,563.43 L222.80,563.40 L223.30,564.02 L223.80,564.14 L224.30,563.10 L224.80,562.12 L225.30,563.10 L225.80,564.04 L226.30,563.00 L226.80,561.93 L227.30,563.00 L227.80,563.88 L228.30,563.41 L228.80,562.58 L229.30,562.71 L229.80,562.04 L230.30,562.10 L230.80,562.74 L231.30,563.38 L231.80,563.49 L232.30,563.54 L232.80,564.01 L233.30,563.71 L233.80,563.40 L234.30,564.03 L234.80,563.89 L235.30,563.95 L235.80,564.05 L236.30,564.02 L236.80,564.26 L237.30,563.84 L237.80,564.03 L238.30,564.29 L238.80,563.81 L239.30,563.64 L239.80,564.09 L240.30,564.01 L240.80,564.15 L241.30,563.92 L241.80,563.50 L242.30,563.99 L242.80,564.09 L243.30,563.54 L243.80,563.94 L244.30,563.31 L244.80,564.04 L245.30,564.01 L245.80,563.78 L246.30,563.29 L246.80,562.56 L247.30,561.59 L247.80,561.10 L248.30,561.04 L248.80,561.92 L249.30,562.73 L249.80,563.43 L250.30,563.54 L250.80,563.52 L251.30,563.08 L251.80,561.72 L252.30,560.70 L252.80,560.99 L253.30,562.03 L253.80,563.28 L254.30,563.33 L254.80,563.84 L255.30,563.88 L255.80,563.74 L256.30,563.28 L256.80,563.74 L257.30,564.03 L257.80,563.95 L258.30,563.80 L258.80,563.20 L259.30,558.77 L259.80,552.10 L260.30,553.18 L260.80,560.04 L261.30,563.17 L261.80,564.06 L262.30,563.96 L262.80,563.52 L263.30,563.96 L263.80,563.81 L264.30,563.02 L264.80,561.66 L265.30,561.79 L265.80,563.00 L266.30,563.34 L266.80,563.69 L267.30,564.07 L267.80,563.68 L268.30,563.67 L268.80,563.87 L269.30,563.86 L269.80,564.05 L270.30,564.25 L270.80,564.01 L271.30,564.16 L271.80,564.01 L272.30,564.01 L272.80,564.08 L273.30,563.71 L273.80,563.86 L274.30,562.83 L274.80,562.36 L275.30,562.27 L275.80,562.56 L276.30,562.50 L276.80,563.31 L277.30,564.05 L277.80,564.20 L278.30,563.97 L278.80,563.47 L279.30,564.17 L279.80,563.80 L280.30,563.96 L280.80,563.31 L281.30,562.85 L281.80,562.55 L282.30,562.54 L282.80,562.91 L283.30,563.52 L283.80,564.02 L284.30,563.90 L284.80,563.83 L285.30,563.61 L285.80,563.97 L286.30,564.11 L286.80,564.01 L287.30,564.03 L287.80,563.05 L288.30,562.02 L288.80,563.05 L289.30,563.87 L289.80,563.74 L290.30,564.27 L290.80,564.13 L291.30,564.15 L291.80,563.88 L292.30,564.05 L292.80,564.14 L293.30,564.24 L293.80,564.05 L294.30,564.28 L294.80,563.16 L295.30,564.01 L295.80,564.17 L296.30,563.81 L296.80,562.89 L297.30,561.74 L297.80,562.89 L298.30,563.63 L298.80,563.92 L299.30,563.58 L299.80,564.29 L300.30,563.99 L300.80,563.57 L301.30,563.80 L301.80,564.26 L302.30,564.06 L302.50,564.30 Z" fill="#4444dc" stroke="#2020b0" stroke-width="0.35"/>
<line x1="70.80" y1="564.30" x2="303.00" y2="564.30" stroke="#10105a" stroke-width="1.0"/>
<text transform="translate(69.20,533.30) scale(1,1.08)" font-family='"Liberation Sans", sans-serif' font-size="8.85" font-weight="bold" text-anchor="end" fill="#7d1d24" stroke="#7d1d24" stroke-width="0.2">K562</text>
<text transform="translate(68.90,553.60) scale(1,1.08)" font-family='"Liberation Sans", sans-serif' font-size="8.9" font-weight="bold" text-anchor="end" fill="#7d1d24" stroke="#7d1d24" stroke-width="0.2">K562-TPA</text>
<line x1="116.50" y1="520.80" x2="229.60" y2="520.80" stroke="#000" stroke-width="1.0"/>
<line x1="116.50" y1="519.30" x2="116.50" y2="523.80" stroke="#000" stroke-width="1.0"/>
<line x1="229.60" y1="519.30" x2="229.60" y2="523.80" stroke="#000" stroke-width="1.0"/>
<text transform="translate(172.80,529.90) scale(1,1.08)" font-family='"Liberation Sans", sans-serif' font-size="7.9" font-weight="bold" text-anchor="middle" fill="#000" stroke="#000" stroke-width="0.2">20kb</text>
<text transform="translate(225.00,574.40) scale(1,1.08)" font-family='"Liberation Sans", sans-serif' font-size="8.1" font-weight="bold" text-anchor="start" fill="#000" stroke="#000" stroke-width="0.2">FOSB</text>
<line x1="246.80" y1="571.60" x2="288.00" y2="571.60" stroke="#000" stroke-width="1.1"/>
<rect x="247.30" y="569.20" width="4.40" height="5.00" fill="#000" stroke="none" stroke-width="1"/>
<rect x="258.00" y="569.60" width="12.50" height="4.20" fill="#000" stroke="none" stroke-width="1"/>
<rect x="262.20" y="568.60" width="3.60" height="6.20" fill="#000" stroke="none" stroke-width="1"/>
<rect x="272.50" y="569.60" width="15.50" height="4.20" fill="#000" stroke="none" stroke-width="1"/>
<rect x="272.50" y="568.60" width="3.20" height="6.20" fill="#000" stroke="none" stroke-width="1"/>
<path d="M253.6,570.2 L255.2,571.6 L253.6,573.0" fill="none" stroke="#000" stroke-width="0.6"/>
<text transform="translate(71.60,595.80) scale(1,1.08)" font-family='"Liberation Sans", sans-serif' font-size="8.05" font-weight="bold" text-anchor="start" fill="#000" stroke="#000" stroke-width="0.05">Chr 1:59,000,000-59,150,000</text>
<line x1="70.80" y1="596.30" x2="303.00" y2="596.30" stroke="#666" stroke-width="0.9"/>
<line x1="70.80" y1="596.30" x2="70.80" y2="618.30" stroke="#777" stroke-width="0.9"/>
<line x1="303.00" y1="596.30" x2="303.00" y2="618.30" stroke="#777" stroke-width="0.9"/>
<line x1="102.30" y1="596.30" x2="102.30" y2="599.30" stroke="#555" stroke-width="0.8"/>
<line x1="132.80" y1="596.30" x2="132.80" y2="599.30" stroke="#555" stroke-width="0.8"/>
<line x1="163.50" y1="596.30" x2="163.50" y2="599.30" stroke="#555" stroke-width="0.8"/>
<line x1="194.50" y1="596.30" x2="194.50" y2="599.30" stroke="#555" stroke-width="0.8"/>
<line x1="225.80" y1="596.30" x2="225.80" y2="599.30" stroke="#555" stroke-width="0.8"/>
<line x1="256.30" y1="596.30" x2="256.30" y2="599.30" stroke="#555" stroke-width="0.8"/>
<line x1="287.50" y1="596.30" x2="287.50" y2="599.30" stroke="#555" stroke-width="0.8"/>
<line x1="70.80" y1="621.30" x2="303.00" y2="621.30" stroke="#666" stroke-width="0.9"/>
<line x1="70.80" y1="621.30" x2="70.80" y2="643.00" stroke="#777" stroke-width="0.9"/>
<line x1="303.00" y1="621.30" x2="303.00" y2="643.00" stroke="#777" stroke-width="0.9"/>
<line x1="102.30" y1="621.30" x2="102.30" y2="624.30" stroke="#555" stroke-width="0.8"/>
<line x1="132.80" y1="621.30" x2="132.80" y2="624.30" stroke="#555" stroke-width="0.8"/>
<line x1="163.50" y1="621.30" x2="163.50" y2="624.30" stroke="#555" stroke-width="0.8"/>
<line x1="194.50" y1="621.30" x2="194.50" y2="624.30" stroke="#555" stroke-width="0.8"/>
<line x1="225.80" y1="621.30" x2="225.80" y2="624.30" stroke="#555" stroke-width="0.8"/>
<line x1="256.30" y1="621.30" x2="256.30" y2="624.30" stroke="#555" stroke-width="0.8"/>
<line x1="287.50" y1="621.30" x2="287.50" y2="624.30" stroke="#555" stroke-width="0.8"/>
<path d="M71.30,618.30 L71.30,615.86 L71.80,616.96 L72.30,617.35 L72.80,617.15 L73.30,616.20 L73.80,616.80 L74.30,617.47 L74.80,616.96 L75.30,617.05 L75.80,616.02 L76.30,617.05 L76.80,617.93 L77.30,617.45 L77.80,618.11 L78.30,616.01 L78.80,616.90 L79.30,618.16 L79.80,618.21 L80.30,617.17 L80.80,616.25 L81.30,617.17 L81.80,617.62 L82.30,616.98 L82.80,616.80 L83.30,615.87 L83.80,615.94 L84.30,616.04 L84.80,616.29 L85.30,616.25 L85.80,617.17 L86.30,617.35 L86.80,616.58 L87.30,617.06 L87.80,616.24 L88.30,616.29 L88.80,617.20 L89.30,617.51 L89.80,616.93 L90.30,615.81 L90.80,616.67 L91.30,617.40 L91.80,617.78 L92.30,617.27 L92.80,616.43 L93.30,617.27 L93.80,618.11 L94.30,617.17 L94.80,616.25 L95.30,616.38 L95.80,616.81 L96.30,616.17 L96.80,617.77 L97.30,616.89 L97.80,618.24 L98.30,617.84 L98.80,617.01 L99.30,615.95 L99.80,615.94 L100.30,616.87 L100.80,616.60 L101.30,617.37 L101.80,616.61 L102.30,617.31 L102.80,617.57 L103.30,617.63 L103.80,616.90 L104.30,615.76 L104.80,616.28 L105.30,616.92 L105.80,617.54 L106.30,616.92 L106.80,616.93 L107.30,615.81 L107.80,615.89 L108.30,616.47 L108.80,617.29 L109.30,616.44 L109.80,616.21 L110.30,616.01 L110.80,617.04 L111.30,617.65 L111.80,617.21 L112.30,617.33 L112.80,617.58 L113.30,616.89 L113.80,616.49 L114.30,617.31 L114.80,617.54 L115.30,617.01 L115.80,615.95 L116.30,616.65 L116.80,617.39 L117.30,617.47 L117.80,616.44 L118.30,616.39 L118.80,616.29 L119.30,617.66 L119.80,617.48 L120.30,616.81 L120.80,615.99 L121.30,617.12 L121.80,616.15 L122.30,617.12 L122.80,617.68 L123.30,617.06 L123.80,616.05 L124.30,617.06 L124.80,616.87 L125.30,615.71 L125.80,616.87 L126.30,618.16 L126.80,617.80 L127.30,618.01 L127.80,617.44 L128.30,616.74 L128.80,617.44 L129.30,617.38 L129.80,617.38 L130.30,617.78 L130.80,617.67 L131.30,617.04 L131.80,617.17 L132.30,616.39 L132.80,617.25 L133.30,617.54 L133.80,618.18 L134.30,617.30 L134.80,615.88 L135.30,616.60 L135.80,615.98 L136.30,617.03 L136.80,617.20 L137.30,616.30 L137.80,616.95 L138.30,617.68 L138.80,617.73 L139.30,617.33 L139.80,616.54 L140.30,616.82 L140.80,617.49 L141.30,617.33 L141.80,616.54 L142.30,617.33 L142.80,616.91 L143.30,617.07 L143.80,616.07 L144.30,616.63 L144.80,616.91 L145.30,617.54 L145.80,617.92 L146.30,617.27 L146.80,616.43 L147.30,617.27 L147.80,617.18 L148.30,617.49 L148.80,617.29 L149.30,616.46 L149.80,615.35 L150.30,616.00 L150.80,617.28 L151.30,617.37 L151.80,617.01 L152.30,615.95 L152.80,617.01 L153.30,616.16 L153.80,616.85 L154.30,607.85 L154.80,609.90 L155.30,617.08 L155.80,617.72 L156.30,613.30 L156.80,614.86 L157.30,617.53 L157.80,617.43 L158.30,617.72 L158.80,618.30 L159.30,617.32 L159.80,617.38 L160.30,617.12 L160.80,616.16 L161.30,616.54 L161.80,615.80 L162.30,615.73 L162.80,616.89 L163.30,617.08 L163.80,617.35 L164.30,617.62 L164.80,617.32 L165.30,617.44 L165.80,617.71 L166.30,617.35 L166.80,617.59 L167.30,616.46 L167.80,616.85 L168.30,616.65 L168.80,616.56 L169.30,616.43 L169.80,617.27 L170.30,616.71 L170.80,617.24 L171.30,616.37 L171.80,617.24 L172.30,616.59 L172.80,616.82 L173.30,617.48 L173.80,617.05 L174.30,616.40 L174.80,617.44 L175.30,616.73 L175.80,617.44 L176.30,616.88 L176.80,617.76 L177.30,617.74 L177.80,617.19 L178.30,615.46 L178.80,617.19 L179.30,618.14 L179.80,618.11 L180.30,616.96 L180.80,615.86 L181.30,616.96 L181.80,617.28 L182.30,616.45 L182.80,615.93 L183.30,616.87 L183.80,616.44 L184.30,617.27 L184.80,617.96 L185.30,617.09 L185.80,617.12 L186.30,616.16 L186.80,617.12 L187.30,618.20 L187.80,617.58 L188.30,618.13 L188.80,618.00 L189.30,617.15 L189.80,616.21 L190.30,616.71 L190.80,616.33 L191.30,617.22 L191.80,617.43 L192.30,616.63 L192.80,617.35 L193.30,617.69 L193.80,616.90 L194.30,617.04 L194.80,617.67 L195.30,617.53 L195.80,617.42 L196.30,617.77 L196.80,617.11 L197.30,617.07 L197.80,616.07 L198.30,615.96 L198.80,617.01 L199.30,616.98 L199.80,616.09 L200.30,616.17 L200.80,618.05 L201.30,616.91 L201.80,616.89 L202.30,617.52 L202.80,616.90 L203.30,617.53 L203.80,617.04 L204.30,616.01 L204.80,616.60 L205.30,617.69 L205.80,617.07 L206.30,616.07 L206.80,617.05 L207.30,616.03 L207.80,617.05 L208.30,618.08 L208.80,617.73 L209.30,617.27 L209.80,616.56 L210.30,617.22 L210.80,616.33 L211.30,616.71 L211.80,617.42 L212.30,617.49 L212.80,616.82 L213.30,616.58 L213.80,617.35 L214.30,617.11 L214.80,617.34 L215.30,616.56 L215.80,615.85 L216.30,616.95 L216.80,617.32 L217.30,618.02 L217.80,618.27 L218.30,617.14 L218.80,616.19 L219.30,617.14 L219.80,617.47 L220.30,618.24 L220.80,617.07 L221.30,616.06 L221.80,616.45 L222.30,617.28 L222.80,616.96 L223.30,616.94 L223.80,615.82 L224.30,616.94 L224.80,615.84 L225.30,615.93 L225.80,616.57 L226.30,616.01 L226.80,617.04 L227.30,616.96 L227.80,616.59 L228.30,617.50 L228.80,617.99 L229.30,617.60 L229.80,617.03 L230.30,617.41 L230.80,616.95 L231.30,616.44 L231.80,617.28 L232.30,617.86 L232.80,617.98 L233.30,617.44 L233.80,616.74 L234.30,615.88 L234.80,616.97 L235.30,617.04 L235.80,617.61 L236.30,616.99 L236.80,617.21 L237.30,617.98 L237.80,617.39 L238.30,616.65 L238.80,616.98 L239.30,615.90 L239.80,616.98 L240.30,616.51 L240.80,617.32 L241.30,617.96 L241.80,617.04 L242.30,617.68 L242.80,616.91 L243.30,615.77 L243.80,616.91 L244.30,616.76 L244.80,616.86 L245.30,616.90 L245.80,615.75 L246.30,616.90 L246.80,615.90 L247.30,616.98 L247.80,615.14 L248.30,615.80 L248.80,617.11 L249.30,616.13 L249.80,617.11 L250.30,618.03 L250.80,616.96 L251.30,615.86 L251.80,616.63 L252.30,617.26 L252.80,616.40 L253.30,616.83 L253.80,616.92 L254.30,615.79 L254.80,616.92 L255.30,616.96 L255.80,615.83 L256.30,611.45 L256.80,615.75 L257.30,616.90 L257.80,616.98 L258.30,615.90 L258.80,616.68 L259.30,616.88 L259.80,617.18 L260.30,617.78 L260.80,616.38 L261.30,612.16 L261.80,616.10 L262.30,616.95 L262.80,617.56 L263.30,617.28 L263.80,617.89 L264.30,617.38 L264.80,615.30 L265.30,615.69 L265.80,617.11 L266.30,616.14 L266.80,617.05 L267.30,617.29 L267.80,617.70 L268.30,617.57 L268.80,617.71 L269.30,616.95 L269.80,615.35 L270.30,615.85 L270.80,616.01 L271.30,617.04 L271.80,616.47 L272.30,616.07 L272.80,616.24 L273.30,617.06 L273.80,618.03 L274.30,617.70 L274.80,617.70 L275.30,616.24 L275.80,617.38 L276.30,616.91 L276.80,615.77 L277.30,616.91 L277.80,616.05 L278.30,615.94 L278.80,617.00 L279.30,615.94 L279.80,616.15 L280.30,616.39 L280.80,617.06 L281.30,616.04 L281.80,617.06 L282.30,616.19 L282.80,617.14 L283.30,616.87 L283.80,617.33 L284.30,616.54 L284.80,616.26 L285.30,616.42 L285.80,617.26 L286.30,616.89 L286.80,617.52 L287.30,617.85 L287.80,617.39 L288.30,616.65 L288.80,617.35 L289.30,616.58 L289.80,616.11 L290.30,617.09 L290.80,616.32 L291.30,617.16 L291.80,616.23 L292.30,616.45 L292.80,617.88 L293.30,617.92 L293.80,617.25 L294.30,616.93 L294.80,617.27 L295.30,617.43 L295.80,616.72 L296.30,617.43 L296.80,617.33 L297.30,616.53 L297.80,617.33 L298.30,616.93 L298.80,615.85 L299.30,616.95 L299.80,618.10 L300.30,617.25 L300.80,616.64 L301.30,615.72 L301.80,616.88 L302.30,617.41 L302.50,618.30 Z" fill="#5fdc5f" stroke="#2fa02f" stroke-width="0.35"/>
<line x1="70.80" y1="618.30" x2="303.00" y2="618.30" stroke="#1f7a1f" stroke-width="1.0"/>
<path d="M71.30,643.00 L71.30,642.66 L71.80,641.81 L72.30,640.83 L72.80,641.81 L73.30,642.12 L73.80,642.17 L74.30,641.48 L74.80,642.17 L75.30,642.63 L75.80,642.44 L76.30,641.93 L76.80,642.61 L77.30,642.99 L77.80,642.34 L78.30,641.79 L78.80,642.34 L79.30,642.11 L79.80,641.86 L80.30,640.93 L80.80,641.86 L81.30,642.65 L81.80,642.89 L82.30,642.76 L82.80,642.86 L83.30,642.73 L83.80,642.96 L84.30,642.94 L84.80,642.91 L85.30,642.42 L85.80,641.94 L86.30,642.42 L86.80,642.74 L87.30,642.54 L87.80,641.82 L88.30,642.50 L88.80,642.12 L89.30,642.95 L89.80,642.29 L90.30,642.16 L90.80,642.57 L91.30,642.66 L91.80,642.79 L92.30,642.80 L92.80,642.29 L93.30,641.68 L93.80,642.05 L94.30,642.81 L94.80,641.87 L95.30,640.94 L95.80,641.87 L96.30,641.76 L96.80,642.32 L97.30,641.77 L97.80,640.85 L98.30,641.01 L98.80,641.95 L99.30,642.58 L99.80,642.49 L100.30,642.72 L100.80,642.86 L101.30,641.65 L101.80,642.32 L102.30,640.57 L102.80,638.95 L103.30,639.35 L103.80,640.98 L104.30,642.19 L104.80,642.42 L105.30,642.35 L105.80,639.40 L106.30,632.22 L106.80,639.37 L107.30,641.90 L107.80,639.22 L108.30,639.75 L108.80,641.77 L109.30,642.19 L109.80,642.38 L110.30,642.70 L110.80,642.76 L111.30,643.00 L111.80,642.97 L112.30,641.67 L112.80,642.77 L113.30,641.79 L113.80,642.20 L114.30,642.91 L114.80,642.53 L115.30,641.78 L115.80,642.75 L116.30,642.78 L116.80,641.65 L117.30,640.55 L117.80,641.65 L118.30,642.85 L118.80,642.83 L119.30,642.09 L119.80,641.35 L120.30,642.09 L120.80,641.73 L121.30,640.69 L121.80,641.73 L122.30,642.05 L122.80,641.27 L123.30,641.99 L123.80,641.71 L124.30,640.66 L124.80,641.71 L125.30,641.86 L125.80,642.97 L126.30,641.83 L126.80,640.87 L127.30,641.83 L127.80,641.45 L128.30,642.11 L128.80,641.38 L129.30,641.51 L129.80,642.45 L130.30,641.76 L130.80,640.75 L131.30,641.76 L131.80,642.64 L132.30,641.97 L132.80,642.96 L133.30,642.24 L133.80,641.61 L134.30,641.10 L134.80,641.95 L135.30,642.02 L135.80,641.22 L136.30,641.92 L136.80,642.81 L137.30,643.00 L137.80,642.78 L138.30,641.55 L138.80,642.09 L139.30,642.80 L139.80,643.00 L140.30,642.35 L140.80,641.50 L141.30,642.59 L141.80,642.94 L142.30,642.64 L142.80,642.21 L143.30,641.77 L143.80,640.77 L144.30,641.77 L144.80,642.93 L145.30,642.92 L145.80,642.91 L146.30,642.08 L146.80,642.94 L147.30,642.90 L147.80,642.79 L148.30,642.80 L148.80,641.78 L149.30,642.55 L149.80,642.26 L150.30,637.74 L150.80,638.71 L151.30,642.01 L151.80,642.61 L152.30,642.59 L152.80,639.86 L153.30,633.17 L153.80,624.92 L154.30,626.08 L154.80,634.85 L155.30,625.10 L155.80,623.59 L156.30,634.07 L156.80,632.26 L157.30,633.63 L157.80,641.22 L158.30,642.21 L158.80,642.57 L159.30,642.52 L159.80,642.53 L160.30,642.97 L160.80,642.40 L161.30,642.96 L161.80,641.76 L162.30,642.44 L162.80,641.27 L163.30,641.94 L163.80,641.08 L164.30,641.94 L164.80,642.13 L165.30,641.72 L165.80,640.67 L166.30,641.72 L166.80,641.85 L167.30,630.73 L167.80,633.30 L168.30,642.45 L168.80,642.91 L169.30,642.54 L169.80,642.95 L170.30,642.37 L170.80,642.90 L171.30,642.90 L171.80,642.98 L172.30,642.50 L172.80,642.35 L173.30,642.14 L173.80,642.32 L174.30,642.22 L174.80,641.15 L175.30,641.29 L175.80,642.54 L176.30,642.60 L176.80,642.69 L177.30,642.22 L177.80,642.42 L178.30,642.92 L178.80,642.23 L179.30,642.34 L179.80,642.52 L180.30,642.91 L180.80,642.96 L181.30,642.58 L181.80,642.87 L182.30,642.32 L182.80,642.67 L183.30,642.76 L183.80,642.62 L184.30,642.37 L184.80,641.86 L185.30,642.37 L185.80,641.99 L186.30,642.93 L186.80,642.79 L187.30,642.62 L187.80,642.66 L188.30,642.29 L188.80,642.59 L189.30,642.64 L189.80,642.31 L190.30,642.80 L190.80,642.92 L191.30,642.49 L191.80,642.13 L192.30,641.41 L192.80,641.87 L193.30,640.95 L193.80,641.87 L194.30,641.42 L194.80,642.13 L195.30,642.86 L195.80,642.75 L196.30,642.35 L196.80,642.77 L197.30,642.11 L197.80,641.38 L198.30,642.11 L198.80,642.55 L199.30,641.77 L199.80,642.54 L200.30,642.23 L200.80,642.29 L201.30,642.95 L201.80,642.57 L202.30,642.34 L202.80,642.38 L203.30,642.28 L203.80,641.70 L204.30,642.28 L204.80,642.47 L205.30,639.44 L205.80,624.98 L206.30,639.77 L206.80,642.27 L207.30,641.67 L207.80,642.27 L208.30,642.99 L208.80,641.67 L209.30,640.59 L209.80,641.67 L210.30,642.90 L210.80,642.61 L211.30,642.97 L211.80,642.60 L212.30,642.79 L212.80,642.91 L213.30,642.15 L213.80,642.91 L214.30,642.66 L214.80,642.88 L215.30,642.57 L215.80,642.92 L216.30,642.41 L216.80,641.92 L217.30,642.41 L217.80,642.71 L218.30,642.25 L218.80,642.68 L219.30,642.18 L219.80,642.76 L220.30,642.01 L220.80,642.68 L221.30,641.73 L221.80,642.54 L222.30,642.11 L222.80,642.46 L223.30,642.02 L223.80,642.46 L224.30,641.83 L224.80,640.22 L225.30,640.43 L225.80,641.63 L226.30,642.84 L226.80,642.42 L227.30,641.84 L227.80,640.88 L228.30,641.84 L228.80,641.42 L229.30,642.13 L229.80,642.88 L230.30,641.83 L230.80,642.15 L231.30,642.97 L231.80,642.84 L232.30,642.52 L232.80,642.85 L233.30,641.87 L233.80,640.94 L234.30,641.83 L234.80,640.88 L235.30,641.83 L235.80,642.80 L236.30,642.72 L236.80,642.83 L237.30,642.86 L237.80,642.62 L238.30,642.65 L238.80,642.60 L239.30,642.98 L239.80,642.92 L240.30,642.29 L240.80,642.19 L241.30,642.18 L241.80,642.72 L242.30,641.60 L242.80,640.46 L243.30,641.60 L243.80,641.80 L244.30,641.87 L244.80,642.36 L245.30,642.74 L245.80,642.19 L246.30,642.90 L246.80,641.88 L247.30,640.96 L247.80,641.88 L248.30,642.60 L248.80,642.47 L249.30,641.88 L249.80,642.15 L250.30,642.91 L250.80,642.63 L251.30,642.43 L251.80,642.24 L252.30,641.79 L252.80,641.76 L253.30,640.47 L253.80,635.89 L254.30,640.56 L254.80,642.69 L255.30,642.15 L255.80,641.45 L256.30,637.56 L256.80,621.96 L257.30,637.42 L257.80,642.81 L258.30,642.37 L258.80,642.24 L259.30,629.96 L259.80,626.01 L260.30,641.16 L260.80,642.31 L261.30,642.40 L261.80,641.69 L262.30,637.91 L262.80,638.84 L263.30,641.93 L263.80,642.41 L264.30,642.83 L264.80,642.89 L265.30,642.04 L265.80,641.26 L266.30,640.74 L266.80,640.98 L267.30,640.86 L267.80,629.13 L268.30,632.38 L268.80,641.86 L269.30,640.92 L269.80,641.86 L270.30,642.48 L270.80,642.06 L271.30,642.36 L271.80,642.70 L272.30,642.25 L272.80,642.49 L273.30,642.07 L273.80,642.65 L274.30,642.75 L274.80,642.76 L275.30,642.69 L275.80,642.73 L276.30,642.86 L276.80,642.07 L277.30,642.66 L277.80,642.88 L278.30,642.82 L278.80,642.12 L279.30,641.84 L279.80,639.42 L280.30,639.78 L280.80,642.37 L281.30,642.67 L281.80,641.91 L282.30,642.10 L282.80,642.18 L283.30,639.61 L283.80,633.20 L284.30,639.57 L284.80,641.99 L285.30,642.46 L285.80,642.34 L286.30,642.81 L286.80,641.73 L287.30,640.68 L287.80,641.73 L288.30,642.34 L288.80,642.46 L289.30,641.94 L289.80,642.17 L290.30,642.54 L290.80,642.05 L291.30,641.27 L291.80,642.05 L292.30,642.65 L292.80,642.73 L293.30,642.84 L293.80,641.75 L294.30,640.73 L294.80,641.75 L295.30,641.75 L295.80,640.26 L296.30,640.30 L296.80,642.36 L297.30,642.66 L297.80,642.48 L298.30,641.92 L298.80,641.03 L299.30,641.92 L299.80,642.83 L300.30,642.98 L300.80,642.21 L301.30,642.24 L301.80,642.06 L302.30,641.97 L302.50,643.00 Z" fill="#1c1ca4" stroke="#0c0c70" stroke-width="0.35"/>
<line x1="70.80" y1="643.00" x2="303.00" y2="643.00" stroke="#10105a" stroke-width="1.0"/>
<text transform="translate(69.60,610.90) scale(1,1.08)" font-family='"Liberation Sans", sans-serif' font-size="8.85" font-weight="bold" text-anchor="end" fill="#7d1d24" stroke="#7d1d24" stroke-width="0.2">K562</text>
<text transform="translate(69.30,631.00) scale(1,1.08)" font-family='"Liberation Sans", sans-serif' font-size="8.9" font-weight="bold" text-anchor="end" fill="#7d1d24" stroke="#7d1d24" stroke-width="0.2">K562-TPA</text>
<line x1="256.30" y1="597.60" x2="287.50" y2="597.60" stroke="#000" stroke-width="1.0"/>
<line x1="256.30" y1="596.10" x2="256.30" y2="601.80" stroke="#000" stroke-width="1.0"/>
<line x1="287.50" y1="596.10" x2="287.50" y2="601.80" stroke="#000" stroke-width="1.0"/>
<text transform="translate(272.50,607.30) scale(1,1.08)" font-family='"Liberation Sans", sans-serif' font-size="7.9" font-weight="bold" text-anchor="middle" fill="#000" stroke="#000" stroke-width="0.2">20kb</text>
<path d="M106.5,648.1 L101.2,648.1 Q98.5,648.4 98.5,651.3 Q98.5,654.3 101.2,654.6 L106.5,654.6 Z" fill="#000" stroke="none" stroke-width="1"/>
<text transform="translate(109.00,654.40) scale(1,1.08)" font-family='"Liberation Sans", sans-serif' font-size="8.1" font-weight="bold" text-anchor="start" fill="#000" stroke="#000" stroke-width="0.2">JUN</text>
<line x1="336.00" y1="434.50" x2="336.00" y2="650.60" stroke="#000" stroke-width="1.25"/>
<path d="M336.0,431.4 L333.0,436.8 L339.0,436.8 Z" fill="#000" stroke="none" stroke-width="1"/>
<text transform="translate(329.60,546.80) rotate(-90)" font-family='"Liberation Sans", sans-serif' font-size="9.78" font-weight="bold" text-anchor="middle" fill="#000" stroke="#000" stroke-width="0.2">Relative expression</text>
<text transform="translate(391.40,431.40) scale(1,1.08)" font-family='"Liberation Sans", sans-serif' font-size="9.4" font-weight="bold" text-anchor="middle" fill="#000" stroke="#000" stroke-width="0.2">Fos</text>
<rect x="367.10" y="487.70" width="9.20" height="3.90" fill="#1414d2" stroke="#000" stroke-width="1.4"/>
<line x1="385.90" y1="443.90" x2="385.90" y2="451.60" stroke="#000" stroke-width="1.5"/>
<line x1="382.00" y1="443.90" x2="389.80" y2="443.90" stroke="#000" stroke-width="1.6"/>
<rect x="381.30" y="451.60" width="9.20" height="40.00" fill="#1414d2" stroke="#000" stroke-width="1.4"/>
<line x1="385.90" y1="451.60" x2="385.90" y2="461.00" stroke="#000" stroke-width="1.3"/>
<line x1="381.30" y1="461.00" x2="390.50" y2="461.00" stroke="#000" stroke-width="1.4"/>
<line x1="399.50" y1="449.90" x2="399.50" y2="454.50" stroke="#000" stroke-width="1.5"/>
<line x1="395.60" y1="449.90" x2="403.40" y2="449.90" stroke="#000" stroke-width="1.6"/>
<rect x="394.80" y="454.50" width="9.40" height="37.10" fill="#1414d2" stroke="#000" stroke-width="1.4"/>
<line x1="399.50" y1="454.50" x2="399.50" y2="458.10" stroke="#000" stroke-width="1.3"/>
<line x1="394.80" y1="458.10" x2="404.20" y2="458.10" stroke="#000" stroke-width="1.4"/>
<line x1="413.80" y1="477.90" x2="413.80" y2="480.00" stroke="#000" stroke-width="1.5"/>
<line x1="409.90" y1="477.90" x2="417.70" y2="477.90" stroke="#000" stroke-width="1.6"/>
<rect x="409.00" y="480.00" width="9.60" height="11.60" fill="#1414d2" stroke="#000" stroke-width="1.4"/>
<line x1="364.60" y1="439.00" x2="364.60" y2="492.40" stroke="#000" stroke-width="1.8"/>
<line x1="360.40" y1="491.60" x2="419.60" y2="491.60" stroke="#000" stroke-width="1.8"/>
<line x1="360.80" y1="439.00" x2="364.60" y2="439.00" stroke="#000" stroke-width="1.5"/>
<text transform="translate(354.40,442.90) scale(1.1,1) scale(1,1.08)" font-family='"Liberation Serif", serif' font-size="9.5" font-weight="bold" text-anchor="end" fill="#000" stroke="#000" stroke-width="0.2">15</text>
<line x1="360.80" y1="456.53" x2="364.60" y2="456.53" stroke="#000" stroke-width="1.5"/>
<text transform="translate(354.40,460.43) scale(1.1,1) scale(1,1.08)" font-family='"Liberation Serif", serif' font-size="9.5" font-weight="bold" text-anchor="end" fill="#000" stroke="#000" stroke-width="0.2">10</text>
<line x1="360.80" y1="474.07" x2="364.60" y2="474.07" stroke="#000" stroke-width="1.5"/>
<text transform="translate(354.40,477.97) scale(1.1,1) scale(1,1.08)" font-family='"Liberation Serif", serif' font-size="9.5" font-weight="bold" text-anchor="end" fill="#000" stroke="#000" stroke-width="0.2">5</text>
<line x1="360.80" y1="491.60" x2="364.60" y2="491.60" stroke="#000" stroke-width="1.5"/>
<text transform="translate(354.40,495.50) scale(1.1,1) scale(1,1.08)" font-family='"Liberation Serif", serif' font-size="9.5" font-weight="bold" text-anchor="end" fill="#000" stroke="#000" stroke-width="0.2">0</text>
<text transform="translate(391.40,517.30) scale(1,1.08)" font-family='"Liberation Sans", sans-serif' font-size="9.4" font-weight="bold" text-anchor="middle" fill="#000" stroke="#000" stroke-width="0.2">Fos-b</text>
<rect x="367.10" y="565.00" width="9.70" height="1.70" fill="#a6d22e" stroke="#000" stroke-width="1.4"/>
<line x1="386.40" y1="528.70" x2="386.40" y2="532.60" stroke="#000" stroke-width="1.5"/>
<line x1="382.50" y1="528.70" x2="390.30" y2="528.70" stroke="#000" stroke-width="1.6"/>
<rect x="382.00" y="532.60" width="8.80" height="34.10" fill="#a6d22e" stroke="#000" stroke-width="1.4"/>
<line x1="386.40" y1="532.60" x2="386.40" y2="536.60" stroke="#000" stroke-width="1.3"/>
<line x1="382.00" y1="536.60" x2="390.80" y2="536.60" stroke="#000" stroke-width="1.4"/>
<line x1="400.80" y1="528.00" x2="400.80" y2="532.00" stroke="#000" stroke-width="1.5"/>
<line x1="396.90" y1="528.00" x2="404.70" y2="528.00" stroke="#000" stroke-width="1.6"/>
<rect x="396.00" y="532.00" width="9.60" height="34.70" fill="#a6d22e" stroke="#000" stroke-width="1.4"/>
<line x1="400.80" y1="532.00" x2="400.80" y2="535.90" stroke="#000" stroke-width="1.3"/>
<line x1="396.00" y1="535.90" x2="405.60" y2="535.90" stroke="#000" stroke-width="1.4"/>
<rect x="411.20" y="563.00" width="9.60" height="3.70" fill="#a6d22e" stroke="#000" stroke-width="1.4"/>
<line x1="416.00" y1="563.00" x2="416.00" y2="564.50" stroke="#000" stroke-width="1.3"/>
<line x1="411.20" y1="564.50" x2="420.80" y2="564.50" stroke="#000" stroke-width="1.4"/>
<rect x="411.20" y="563.00" width="9.60" height="1.50" fill="#000" stroke="none" stroke-width="1"/>
<line x1="365.10" y1="520.40" x2="365.10" y2="567.50" stroke="#000" stroke-width="1.8"/>
<line x1="360.90" y1="566.70" x2="422.80" y2="566.70" stroke="#000" stroke-width="1.8"/>
<line x1="361.30" y1="520.40" x2="365.10" y2="520.40" stroke="#000" stroke-width="1.5"/>
<text transform="translate(354.90,524.30) scale(1.1,1) scale(1,1.08)" font-family='"Liberation Serif", serif' font-size="9.5" font-weight="bold" text-anchor="end" fill="#000" stroke="#000" stroke-width="0.2">40</text>
<line x1="361.30" y1="531.98" x2="365.10" y2="531.98" stroke="#000" stroke-width="1.5"/>
<text transform="translate(354.90,535.88) scale(1.1,1) scale(1,1.08)" font-family='"Liberation Serif", serif' font-size="9.5" font-weight="bold" text-anchor="end" fill="#000" stroke="#000" stroke-width="0.2">30</text>
<line x1="361.30" y1="543.55" x2="365.10" y2="543.55" stroke="#000" stroke-width="1.5"/>
<text transform="translate(354.90,547.45) scale(1.1,1) scale(1,1.08)" font-family='"Liberation Serif", serif' font-size="9.5" font-weight="bold" text-anchor="end" fill="#000" stroke="#000" stroke-width="0.2">20</text>
<line x1="361.30" y1="555.12" x2="365.10" y2="555.12" stroke="#000" stroke-width="1.5"/>
<text transform="translate(354.90,559.02) scale(1.1,1) scale(1,1.08)" font-family='"Liberation Serif", serif' font-size="9.5" font-weight="bold" text-anchor="end" fill="#000" stroke="#000" stroke-width="0.2">10</text>
<line x1="361.30" y1="566.70" x2="365.10" y2="566.70" stroke="#000" stroke-width="1.5"/>
<text transform="translate(354.90,570.60) scale(1.1,1) scale(1,1.08)" font-family='"Liberation Serif", serif' font-size="9.5" font-weight="bold" text-anchor="end" fill="#000" stroke="#000" stroke-width="0.2">0</text>
<text transform="translate(391.40,588.20) scale(1,1.08)" font-family='"Liberation Sans", sans-serif' font-size="9.4" font-weight="bold" text-anchor="middle" fill="#000" stroke="#000" stroke-width="0.2">Jun</text>
<rect x="368.30" y="638.70" width="8.90" height="3.70" fill="#ffa01e" stroke="#000" stroke-width="1.4"/>
<line x1="386.60" y1="595.40" x2="386.60" y2="601.20" stroke="#000" stroke-width="1.5"/>
<line x1="382.70" y1="595.40" x2="390.50" y2="595.40" stroke="#000" stroke-width="1.6"/>
<rect x="382.00" y="601.20" width="9.20" height="41.20" fill="#ffa01e" stroke="#000" stroke-width="1.4"/>
<line x1="386.60" y1="601.20" x2="386.60" y2="607.40" stroke="#000" stroke-width="1.3"/>
<line x1="382.00" y1="607.40" x2="391.20" y2="607.40" stroke="#000" stroke-width="1.4"/>
<line x1="401.00" y1="599.10" x2="401.00" y2="605.20" stroke="#000" stroke-width="1.5"/>
<line x1="397.10" y1="599.10" x2="404.90" y2="599.10" stroke="#000" stroke-width="1.6"/>
<rect x="396.40" y="605.20" width="9.20" height="37.20" fill="#ffa01e" stroke="#000" stroke-width="1.4"/>
<line x1="401.00" y1="605.20" x2="401.00" y2="612.40" stroke="#000" stroke-width="1.3"/>
<line x1="396.40" y1="612.40" x2="405.60" y2="612.40" stroke="#000" stroke-width="1.4"/>
<rect x="411.20" y="627.10" width="8.90" height="15.30" fill="#ffa01e" stroke="#000" stroke-width="1.4"/>
<line x1="415.65" y1="627.10" x2="415.65" y2="630.40" stroke="#000" stroke-width="1.3"/>
<line x1="411.20" y1="630.40" x2="420.10" y2="630.40" stroke="#000" stroke-width="1.4"/>
<rect x="411.20" y="627.10" width="8.90" height="3.30" fill="#000" stroke="none" stroke-width="1"/>
<line x1="365.60" y1="591.70" x2="365.60" y2="643.20" stroke="#000" stroke-width="1.8"/>
<line x1="361.40" y1="642.40" x2="422.80" y2="642.40" stroke="#000" stroke-width="1.8"/>
<line x1="361.80" y1="591.70" x2="365.60" y2="591.70" stroke="#000" stroke-width="1.5"/>
<text transform="translate(355.40,595.60) scale(1.1,1) scale(1,1.08)" font-family='"Liberation Serif", serif' font-size="9.5" font-weight="bold" text-anchor="end" fill="#000" stroke="#000" stroke-width="0.2">15</text>
<line x1="361.80" y1="608.60" x2="365.60" y2="608.60" stroke="#000" stroke-width="1.5"/>
<text transform="translate(355.40,612.50) scale(1.1,1) scale(1,1.08)" font-family='"Liberation Serif", serif' font-size="9.5" font-weight="bold" text-anchor="end" fill="#000" stroke="#000" stroke-width="0.2">10</text>
<line x1="361.80" y1="625.50" x2="365.60" y2="625.50" stroke="#000" stroke-width="1.5"/>
<text transform="translate(355.40,629.40) scale(1.1,1) scale(1,1.08)" font-family='"Liberation Serif", serif' font-size="9.5" font-weight="bold" text-anchor="end" fill="#000" stroke="#000" stroke-width="0.2">5</text>
<line x1="361.80" y1="642.40" x2="365.60" y2="642.40" stroke="#000" stroke-width="1.5"/>
<text transform="translate(355.40,646.30) scale(1.1,1) scale(1,1.08)" font-family='"Liberation Serif", serif' font-size="9.5" font-weight="bold" text-anchor="end" fill="#000" stroke="#000" stroke-width="0.2">0</text>
<text transform="translate(369.90,653.80) rotate(45) scale(1,1.08)" font-family='"Liberation Sans", sans-serif' font-size="7.1" font-weight="bold" text-anchor="start" fill="#000" stroke="#000" stroke-width="0.12">K562</text>
<text transform="translate(385.30,652.80) rotate(45) scale(1,1.08)" font-family='"Liberation Sans", sans-serif' font-size="7.1" font-weight="bold" text-anchor="start" fill="#000" stroke="#000" stroke-width="0.12">K562-TPA</text>
<text transform="translate(399.70,651.80) rotate(45) scale(1,1.08)" font-family='"Liberation Sans", sans-serif' font-size="7.1" font-weight="bold" text-anchor="start" fill="#000" stroke="#000" stroke-width="0.12">K562-TPA neg</text>
<text transform="translate(415.10,650.80) rotate(45) scale(1,1.08)" font-family='"Liberation Sans", sans-serif' font-size="7.1" font-weight="bold" text-anchor="start" fill="#000" stroke="#000" stroke-width="0.12">K562-TPA-KD</text>
</svg>
</body></html>
